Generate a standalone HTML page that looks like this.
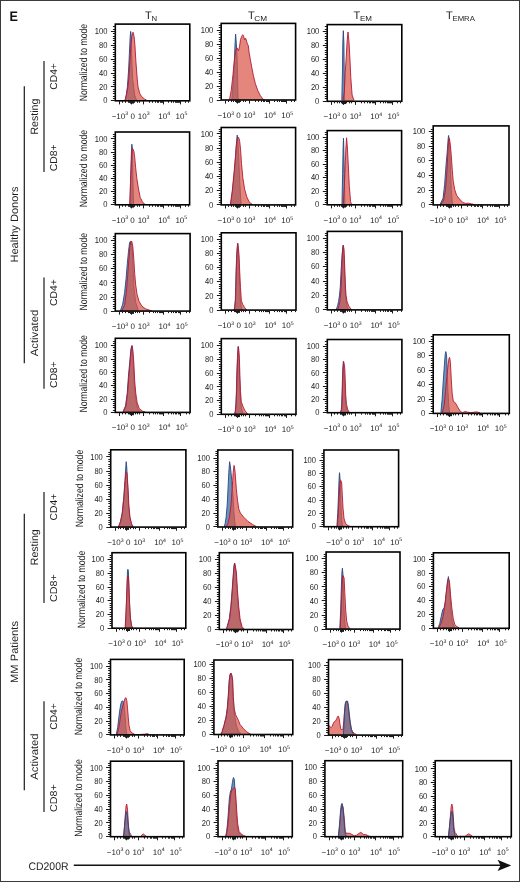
<!DOCTYPE html><html><head><meta charset="utf-8"><style>html,body{margin:0;padding:0;background:#fff;}svg{display:block;will-change:transform;}</style></head><body><svg text-rendering="geometricPrecision" width="520" height="882" viewBox="0 0 520 882" font-family='"Liberation Sans", sans-serif'>
<rect x="0" y="0" width="520" height="882" fill="#fff"/>
<rect x="0.5" y="0.5" width="519" height="881" fill="none" stroke="#3a3a3a" stroke-width="1"/>
<text x="9.4" y="20.6" font-size="13.8" text-anchor="start" font-weight="bold" fill="#111" textLength="8.4" lengthAdjust="spacingAndGlyphs" >E</text>
<text x="145" y="18.6" font-size="11" text-anchor="start" font-weight="normal" fill="#1e1e1e" >T</text>
<text x="151.4" y="20.8" font-size="7.2" text-anchor="start" font-weight="normal" fill="#1e1e1e" textLength="5.6" lengthAdjust="spacingAndGlyphs" >N</text>
<text x="247.9" y="18.6" font-size="11" text-anchor="start" font-weight="normal" fill="#1e1e1e" >T</text>
<text x="254.3" y="20.8" font-size="7.2" text-anchor="start" font-weight="normal" fill="#1e1e1e" textLength="12.8" lengthAdjust="spacingAndGlyphs" >CM</text>
<text x="353.6" y="18.6" font-size="11" text-anchor="start" font-weight="normal" fill="#1e1e1e" >T</text>
<text x="360" y="20.8" font-size="7.2" text-anchor="start" font-weight="normal" fill="#1e1e1e" textLength="12" lengthAdjust="spacingAndGlyphs" >EM</text>
<text x="446.1" y="18.6" font-size="11" text-anchor="start" font-weight="normal" fill="#1e1e1e" >T</text>
<text x="452.5" y="20.8" font-size="7.2" text-anchor="start" font-weight="normal" fill="#1e1e1e" textLength="22.4" lengthAdjust="spacingAndGlyphs" >EMRA</text>
<clipPath id="c11"><rect x="115.3" y="24.1" width="74.5" height="76.7"/></clipPath>
<g clip-path="url(#c11)">
<path d="M125,100.8 L125,100.8 L126.3,95.1 L127.4,86.7 L128.6,70 L129.4,53.2 L130.2,36.4 L130.7,31.4 L131.3,36.4 L131.6,53.2 L132.6,78.3 L134.7,95.1 L136.8,100.8 L136.8,100.8 Z" fill="#1f5a9e" fill-opacity="0.66" stroke="none"/>
<path d="M125,100.8 L126.3,95.1 L127.4,86.7 L128.6,70 L129.4,53.2 L130.2,36.4 L130.7,31.4 L131.3,36.4 L131.6,53.2 L132.6,78.3 L134.7,95.1 L136.8,100.8" fill="none" stroke="#27477c" stroke-width="0.9" stroke-linejoin="round"/>
<path d="M124.6,100.8 L124.6,100.8 L125.5,98.5 L126.7,93.4 L128,86.7 L128.8,78.3 L129.9,61.6 L130.9,44.8 L131.9,36.4 L133,32.2 L134.1,36.4 L134.9,44.8 L135.9,61.6 L137.2,78.3 L138,86.7 L139.7,93.4 L141.8,96.8 L144.3,98.9 L147.7,100.8 L147.7,100.8 Z" fill="#da584a" fill-opacity="0.72" stroke="none"/>
<path d="M124.6,100.8 L125.5,98.5 L126.7,93.4 L128,86.7 L128.8,78.3 L129.9,61.6 L130.9,44.8 L131.9,36.4 L133,32.2 L134.1,36.4 L134.9,44.8 L135.9,61.6 L137.2,78.3 L138,86.7 L139.7,93.4 L141.8,96.8 L144.3,98.9 L147.7,100.8" fill="none" stroke="#b41838" stroke-width="0.9" stroke-linejoin="round"/>
</g>
<rect x="115.3" y="24.1" width="74.5" height="76.7" fill="none" stroke="#000" stroke-width="1.6"/>
<path d="M110.9,100.5H115.3M112.9,98.5H115.3M112.9,96.5H115.3M112.9,93.5H115.3M112.9,91.5H115.3M112.9,89.5H115.3M110.9,86.5H115.3M112.9,84.5H115.3M112.9,82.5H115.3M112.9,80.5H115.3M112.9,77.5H115.3M112.9,75.5H115.3M110.9,73.5H115.3M112.9,70.5H115.3M112.9,68.5H115.3M112.9,66.5H115.3M112.9,63.5H115.3M112.9,61.5H115.3M110.9,59.5H115.3M112.9,56.5H115.3M112.9,54.5H115.3M112.9,52.5H115.3M112.9,49.5H115.3M112.9,47.5H115.3M110.9,45.5H115.3M112.9,43.5H115.3M112.9,40.5H115.3M112.9,38.5H115.3M112.9,36.5H115.3M112.9,33.5H115.3M110.9,31.5H115.3M112.9,29.5H115.3M112.9,26.5H115.3" stroke="#1a1a1a" stroke-width="1" fill="none"/>
<text x="107.4" y="103.4" font-size="8.6" text-anchor="end" font-weight="normal" fill="#1e1e1e" textLength="4.2" lengthAdjust="spacingAndGlyphs" >0</text>
<text x="107.4" y="89.54" font-size="8.6" text-anchor="end" font-weight="normal" fill="#1e1e1e" textLength="8.4" lengthAdjust="spacingAndGlyphs" >20</text>
<text x="107.4" y="75.68" font-size="8.6" text-anchor="end" font-weight="normal" fill="#1e1e1e" textLength="8.4" lengthAdjust="spacingAndGlyphs" >40</text>
<text x="107.4" y="61.82" font-size="8.6" text-anchor="end" font-weight="normal" fill="#1e1e1e" textLength="8.4" lengthAdjust="spacingAndGlyphs" >60</text>
<text x="107.4" y="47.96" font-size="8.6" text-anchor="end" font-weight="normal" fill="#1e1e1e" textLength="8.4" lengthAdjust="spacingAndGlyphs" >80</text>
<text x="107.4" y="34.1" font-size="8.6" text-anchor="end" font-weight="normal" fill="#1e1e1e" textLength="12.6" lengthAdjust="spacingAndGlyphs" >100</text>
<path d="M119.5,100.8v3.6M131.5,100.8v3.6M143.5,100.8v3.6M163.5,100.8v3.6M180.5,100.8v3.6M130.5,100.8v2.8M132.5,100.8v2.8M133.5,100.8v2.8M149.5,100.8v2.0M152.5,100.8v2.0M155.5,100.8v2.0M157.5,100.8v2.0M158.5,100.8v2.0M160.5,100.8v2.0M161.5,100.8v2.0M162.5,100.8v2.0M168.5,100.8v2.0M171.5,100.8v2.0M173.5,100.8v2.0M175.5,100.8v2.0M176.5,100.8v2.0M177.5,100.8v2.0M178.5,100.8v2.0M179.5,100.8v2.0M185.5,100.8v2.0M188.5,100.8v2.0M122.5,100.8v2.0M125.5,100.8v2.0M128.5,100.8v2.0M129.5,100.8v2.0M134.5,100.8v2.0M137.5,100.8v2.0M139.5,100.8v2.0" stroke="#1a1a1a" stroke-width="1" fill="none"/>
<text x="119.92" y="118.6" font-size="8" text-anchor="middle" font-weight="normal" fill="#1e1e1e" >−10<tspan font-size="5.2" dy="-3.2">3</tspan></text>
<text x="132.62" y="118.6" font-size="8" text-anchor="middle" font-weight="normal" fill="#1e1e1e" >0</text>
<text x="143.64" y="118.6" font-size="8" text-anchor="middle" font-weight="normal" fill="#1e1e1e" >10<tspan font-size="5.2" dy="-3.2">3</tspan></text>
<text x="164.18" y="118.6" font-size="8" text-anchor="middle" font-weight="normal" fill="#1e1e1e" >10<tspan font-size="5.2" dy="-3.2">4</tspan></text>
<text x="181.46" y="118.6" font-size="8" text-anchor="middle" font-weight="normal" fill="#1e1e1e" >10<tspan font-size="5.2" dy="-3.2">5</tspan></text>
<text transform="translate(87,62.6) rotate(-90)" x="0" y="0" font-size="10.6" text-anchor="middle" fill="#1e1e1e" textLength="77.4" lengthAdjust="spacingAndGlyphs">Normalized to mode</text>
<clipPath id="c12"><rect x="221.2" y="23.4" width="74.4" height="76.6"/></clipPath>
<g clip-path="url(#c12)">
<path d="M231.8,100 L231.8,99.8 L233.5,77.9 L234.5,60.6 L234.9,46.8 L235.6,34.1 L236.3,43.3 L237,54.8 L237.5,72.1 L237.8,89.4 L238.1,99.8 L238.1,100 Z" fill="#1f5a9e" fill-opacity="0.66" stroke="none"/>
<path d="M231.8,99.8 L233.5,77.9 L234.5,60.6 L234.9,46.8 L235.6,34.1 L236.3,43.3 L237,54.8 L237.5,72.1 L237.8,89.4 L238.1,99.8" fill="none" stroke="#27477c" stroke-width="0.9" stroke-linejoin="round"/>
<path d="M229.5,100 L229.5,99.8 L231.2,90.6 L233,74.4 L234.5,58.3 L235.8,50.2 L237,47.9 L238.4,50.8 L239.5,46.8 L240.5,39.8 L241.6,36.4 L242.8,34.7 L243.7,36.4 L244.5,39.8 L245.6,38.1 L246.5,41 L247.4,43.9 L248.3,45.6 L249.1,52.5 L250.3,59.4 L251.8,67.5 L253.4,75.6 L255.4,83.7 L257.8,90.6 L260.1,95.2 L262.9,99.2 L264.7,99.8 L264.7,100 Z" fill="#da584a" fill-opacity="0.72" stroke="none"/>
<path d="M229.5,99.8 L231.2,90.6 L233,74.4 L234.5,58.3 L235.8,50.2 L237,47.9 L238.4,50.8 L239.5,46.8 L240.5,39.8 L241.6,36.4 L242.8,34.7 L243.7,36.4 L244.5,39.8 L245.6,38.1 L246.5,41 L247.4,43.9 L248.3,45.6 L249.1,52.5 L250.3,59.4 L251.8,67.5 L253.4,75.6 L255.4,83.7 L257.8,90.6 L260.1,95.2 L262.9,99.2 L264.7,99.8" fill="none" stroke="#b41838" stroke-width="0.9" stroke-linejoin="round"/>
</g>
<rect x="221.2" y="23.4" width="74.4" height="76.6" fill="none" stroke="#000" stroke-width="1.6"/>
<path d="M216.8,100.5H221.2M218.8,97.5H221.2M218.8,95.5H221.2M218.8,93.5H221.2M218.8,90.5H221.2M218.8,88.5H221.2M216.8,86.5H221.2M218.8,83.5H221.2M218.8,81.5H221.2M218.8,79.5H221.2M218.8,76.5H221.2M218.8,74.5H221.2M216.8,72.5H221.2M218.8,69.5H221.2M218.8,67.5H221.2M218.8,65.5H221.2M218.8,62.5H221.2M218.8,60.5H221.2M216.8,58.5H221.2M218.8,55.5H221.2M218.8,53.5H221.2M218.8,51.5H221.2M218.8,48.5H221.2M218.8,46.5H221.2M216.8,44.5H221.2M218.8,41.5H221.2M218.8,39.5H221.2M218.8,37.5H221.2M218.8,34.5H221.2M218.8,32.5H221.2M216.8,30.5H221.2M218.8,27.5H221.2M218.8,25.5H221.2" stroke="#1a1a1a" stroke-width="1" fill="none"/>
<text x="213.3" y="102.6" font-size="8.6" text-anchor="end" font-weight="normal" fill="#1e1e1e" textLength="4.2" lengthAdjust="spacingAndGlyphs" >0</text>
<text x="213.3" y="88.64" font-size="8.6" text-anchor="end" font-weight="normal" fill="#1e1e1e" textLength="8.4" lengthAdjust="spacingAndGlyphs" >20</text>
<text x="213.3" y="74.68" font-size="8.6" text-anchor="end" font-weight="normal" fill="#1e1e1e" textLength="8.4" lengthAdjust="spacingAndGlyphs" >40</text>
<text x="213.3" y="60.72" font-size="8.6" text-anchor="end" font-weight="normal" fill="#1e1e1e" textLength="8.4" lengthAdjust="spacingAndGlyphs" >60</text>
<text x="213.3" y="46.76" font-size="8.6" text-anchor="end" font-weight="normal" fill="#1e1e1e" textLength="8.4" lengthAdjust="spacingAndGlyphs" >80</text>
<text x="213.3" y="32.8" font-size="8.6" text-anchor="end" font-weight="normal" fill="#1e1e1e" textLength="12.6" lengthAdjust="spacingAndGlyphs" >100</text>
<path d="M225.5,100v3.6M237.5,100v3.6M249.5,100v3.6M269.5,100v3.6M286.5,100v3.6M236.5,100v2.8M238.5,100v2.8M239.5,100v2.8M255.5,100v2.0M258.5,100v2.0M261.5,100v2.0M263.5,100v2.0M264.5,100v2.0M266.5,100v2.0M267.5,100v2.0M268.5,100v2.0M274.5,100v2.0M277.5,100v2.0M279.5,100v2.0M281.5,100v2.0M282.5,100v2.0M283.5,100v2.0M284.5,100v2.0M285.5,100v2.0M291.5,100v2.0M294.5,100v2.0M228.5,100v2.0M231.5,100v2.0M233.5,100v2.0M235.5,100v2.0M240.5,100v2.0M243.5,100v2.0M245.5,100v2.0" stroke="#1a1a1a" stroke-width="1" fill="none"/>
<text x="225.82" y="117.8" font-size="8" text-anchor="middle" font-weight="normal" fill="#1e1e1e" >−10<tspan font-size="5.2" dy="-3.2">3</tspan></text>
<text x="238.5" y="117.8" font-size="8" text-anchor="middle" font-weight="normal" fill="#1e1e1e" >0</text>
<text x="249.5" y="117.8" font-size="8" text-anchor="middle" font-weight="normal" fill="#1e1e1e" >10<tspan font-size="5.2" dy="-3.2">3</tspan></text>
<text x="270.01" y="117.8" font-size="8" text-anchor="middle" font-weight="normal" fill="#1e1e1e" >10<tspan font-size="5.2" dy="-3.2">4</tspan></text>
<text x="287.27" y="117.8" font-size="8" text-anchor="middle" font-weight="normal" fill="#1e1e1e" >10<tspan font-size="5.2" dy="-3.2">5</tspan></text>
<clipPath id="c13"><rect x="327.2" y="24.6" width="74.6" height="76.7"/></clipPath>
<g clip-path="url(#c13)">
<path d="M341.8,101.3 L341.8,100.1 L342.5,69.1 L342.8,43.2 L343.3,30.7 L343.9,43.2 L344.2,69.1 L344.6,100.1 L344.6,101.3 Z" fill="#1f5a9e" fill-opacity="0.66" stroke="none"/>
<path d="M341.8,100.1 L342.5,69.1 L342.8,43.2 L343.3,30.7 L343.9,43.2 L344.2,69.1 L344.6,100.1" fill="none" stroke="#27477c" stroke-width="0.9" stroke-linejoin="round"/>
<path d="M343.1,101.3 L343.1,100.1 L344.4,90.7 L345.2,73.4 L346.3,56.2 L347.1,41.5 L348,32 L349.1,43.2 L350,60.5 L350.8,77.7 L352.1,95 L353.9,100.1 L353.9,101.3 Z" fill="#da584a" fill-opacity="0.72" stroke="none"/>
<path d="M343.1,100.1 L344.4,90.7 L345.2,73.4 L346.3,56.2 L347.1,41.5 L348,32 L349.1,43.2 L350,60.5 L350.8,77.7 L352.1,95 L353.9,100.1" fill="none" stroke="#b41838" stroke-width="0.9" stroke-linejoin="round"/>
</g>
<rect x="327.2" y="24.6" width="74.6" height="76.7" fill="none" stroke="#000" stroke-width="1.6"/>
<path d="M322.8,101.5H327.2M324.8,98.5H327.2M324.8,96.5H327.2M324.8,94.5H327.2M324.8,91.5H327.2M324.8,89.5H327.2M322.8,87.5H327.2M324.8,85.5H327.2M324.8,82.5H327.2M324.8,80.5H327.2M324.8,78.5H327.2M324.8,75.5H327.2M322.8,73.5H327.2M324.8,71.5H327.2M324.8,68.5H327.2M324.8,66.5H327.2M324.8,64.5H327.2M324.8,61.5H327.2M322.8,59.5H327.2M324.8,57.5H327.2M324.8,54.5H327.2M324.8,52.5H327.2M324.8,50.5H327.2M324.8,47.5H327.2M322.8,45.5H327.2M324.8,43.5H327.2M324.8,40.5H327.2M324.8,38.5H327.2M324.8,36.5H327.2M324.8,33.5H327.2M322.8,31.5H327.2M324.8,29.5H327.2M324.8,26.5H327.2" stroke="#1a1a1a" stroke-width="1" fill="none"/>
<text x="319.3" y="103.9" font-size="8.6" text-anchor="end" font-weight="normal" fill="#1e1e1e" textLength="4.2" lengthAdjust="spacingAndGlyphs" >0</text>
<text x="319.3" y="89.94" font-size="8.6" text-anchor="end" font-weight="normal" fill="#1e1e1e" textLength="8.4" lengthAdjust="spacingAndGlyphs" >20</text>
<text x="319.3" y="75.98" font-size="8.6" text-anchor="end" font-weight="normal" fill="#1e1e1e" textLength="8.4" lengthAdjust="spacingAndGlyphs" >40</text>
<text x="319.3" y="62.02" font-size="8.6" text-anchor="end" font-weight="normal" fill="#1e1e1e" textLength="8.4" lengthAdjust="spacingAndGlyphs" >60</text>
<text x="319.3" y="48.06" font-size="8.6" text-anchor="end" font-weight="normal" fill="#1e1e1e" textLength="8.4" lengthAdjust="spacingAndGlyphs" >80</text>
<text x="319.3" y="34.1" font-size="8.6" text-anchor="end" font-weight="normal" fill="#1e1e1e" textLength="12.6" lengthAdjust="spacingAndGlyphs" >100</text>
<path d="M331.5,101.3v3.6M343.5,101.3v3.6M355.5,101.3v3.6M375.5,101.3v3.6M392.5,101.3v3.6M342.5,101.3v2.8M344.5,101.3v2.8M345.5,101.3v2.8M361.5,101.3v2.0M364.5,101.3v2.0M367.5,101.3v2.0M369.5,101.3v2.0M370.5,101.3v2.0M372.5,101.3v2.0M373.5,101.3v2.0M374.5,101.3v2.0M380.5,101.3v2.0M383.5,101.3v2.0M385.5,101.3v2.0M387.5,101.3v2.0M388.5,101.3v2.0M389.5,101.3v2.0M390.5,101.3v2.0M391.5,101.3v2.0M397.5,101.3v2.0M400.5,101.3v2.0M334.5,101.3v2.0M337.5,101.3v2.0M339.5,101.3v2.0M341.5,101.3v2.0M346.5,101.3v2.0M349.5,101.3v2.0M351.5,101.3v2.0" stroke="#1a1a1a" stroke-width="1" fill="none"/>
<text x="331.83" y="119.1" font-size="8" text-anchor="middle" font-weight="normal" fill="#1e1e1e" >−10<tspan font-size="5.2" dy="-3.2">3</tspan></text>
<text x="344.54" y="119.1" font-size="8" text-anchor="middle" font-weight="normal" fill="#1e1e1e" >0</text>
<text x="355.57" y="119.1" font-size="8" text-anchor="middle" font-weight="normal" fill="#1e1e1e" >10<tspan font-size="5.2" dy="-3.2">3</tspan></text>
<text x="376.14" y="119.1" font-size="8" text-anchor="middle" font-weight="normal" fill="#1e1e1e" >10<tspan font-size="5.2" dy="-3.2">4</tspan></text>
<text x="393.45" y="119.1" font-size="8" text-anchor="middle" font-weight="normal" fill="#1e1e1e" >10<tspan font-size="5.2" dy="-3.2">5</tspan></text>
<clipPath id="c21"><rect x="115.3" y="132" width="74.3" height="72.8"/></clipPath>
<g clip-path="url(#c21)">
<path d="M130.1,204.8 L130.1,204.1 L130.8,174 L131.4,153 L131.8,144.2 L132.4,148.8 L132.8,174 L133.5,204.1 L133.5,204.8 Z" fill="#1f5a9e" fill-opacity="0.66" stroke="none"/>
<path d="M130.1,204.1 L130.8,174 L131.4,153 L131.8,144.2 L132.4,148.8 L132.8,174 L133.5,204.1" fill="none" stroke="#27477c" stroke-width="0.9" stroke-linejoin="round"/>
<path d="M129.7,204.8 L129.7,204.1 L130.5,182.3 L131.4,161.4 L132,148.8 L132.6,148.4 L133.9,151.3 L134.7,157.2 L135.6,167.2 L136.8,178.1 L138.5,189 L140.2,197.4 L142.3,201.6 L144.4,204.1 L146.9,204.8 L146.9,204.8 Z" fill="#da584a" fill-opacity="0.72" stroke="none"/>
<path d="M129.7,204.1 L130.5,182.3 L131.4,161.4 L132,148.8 L132.6,148.4 L133.9,151.3 L134.7,157.2 L135.6,167.2 L136.8,178.1 L138.5,189 L140.2,197.4 L142.3,201.6 L144.4,204.1 L146.9,204.8" fill="none" stroke="#b41838" stroke-width="0.9" stroke-linejoin="round"/>
</g>
<rect x="115.3" y="132" width="74.3" height="72.8" fill="none" stroke="#000" stroke-width="1.6"/>
<path d="M110.9,204.5H115.3M112.9,202.5H115.3M112.9,200.5H115.3M112.9,198.5H115.3M112.9,196.5H115.3M112.9,193.5H115.3M110.9,191.5H115.3M112.9,189.5H115.3M112.9,187.5H115.3M112.9,185.5H115.3M112.9,182.5H115.3M112.9,180.5H115.3M110.9,178.5H115.3M112.9,176.5H115.3M112.9,174.5H115.3M112.9,171.5H115.3M112.9,169.5H115.3M112.9,167.5H115.3M110.9,165.5H115.3M112.9,163.5H115.3M112.9,160.5H115.3M112.9,158.5H115.3M112.9,156.5H115.3M112.9,154.5H115.3M110.9,152.5H115.3M112.9,149.5H115.3M112.9,147.5H115.3M112.9,145.5H115.3M112.9,143.5H115.3M112.9,141.5H115.3M110.9,138.5H115.3M112.9,136.5H115.3M112.9,134.5H115.3" stroke="#1a1a1a" stroke-width="1" fill="none"/>
<text x="107.4" y="207.4" font-size="8.6" text-anchor="end" font-weight="normal" fill="#1e1e1e" textLength="4.2" lengthAdjust="spacingAndGlyphs" >0</text>
<text x="107.4" y="194.24" font-size="8.6" text-anchor="end" font-weight="normal" fill="#1e1e1e" textLength="8.4" lengthAdjust="spacingAndGlyphs" >20</text>
<text x="107.4" y="181.08" font-size="8.6" text-anchor="end" font-weight="normal" fill="#1e1e1e" textLength="8.4" lengthAdjust="spacingAndGlyphs" >40</text>
<text x="107.4" y="167.92" font-size="8.6" text-anchor="end" font-weight="normal" fill="#1e1e1e" textLength="8.4" lengthAdjust="spacingAndGlyphs" >60</text>
<text x="107.4" y="154.76" font-size="8.6" text-anchor="end" font-weight="normal" fill="#1e1e1e" textLength="8.4" lengthAdjust="spacingAndGlyphs" >80</text>
<text x="107.4" y="141.6" font-size="8.6" text-anchor="end" font-weight="normal" fill="#1e1e1e" textLength="12.6" lengthAdjust="spacingAndGlyphs" >100</text>
<path d="M119.5,204.8v3.6M131.5,204.8v3.6M143.5,204.8v3.6M163.5,204.8v3.6M180.5,204.8v3.6M130.5,204.8v2.8M132.5,204.8v2.8M133.5,204.8v2.8M149.5,204.8v2.0M152.5,204.8v2.0M155.5,204.8v2.0M157.5,204.8v2.0M158.5,204.8v2.0M160.5,204.8v2.0M161.5,204.8v2.0M162.5,204.8v2.0M168.5,204.8v2.0M171.5,204.8v2.0M173.5,204.8v2.0M175.5,204.8v2.0M176.5,204.8v2.0M177.5,204.8v2.0M178.5,204.8v2.0M179.5,204.8v2.0M185.5,204.8v2.0M188.5,204.8v2.0M122.5,204.8v2.0M125.5,204.8v2.0M128.5,204.8v2.0M129.5,204.8v2.0M134.5,204.8v2.0M137.5,204.8v2.0M139.5,204.8v2.0" stroke="#1a1a1a" stroke-width="1" fill="none"/>
<text x="119.91" y="222.6" font-size="8" text-anchor="middle" font-weight="normal" fill="#1e1e1e" >−10<tspan font-size="5.2" dy="-3.2">3</tspan></text>
<text x="132.57" y="222.6" font-size="8" text-anchor="middle" font-weight="normal" fill="#1e1e1e" >0</text>
<text x="143.56" y="222.6" font-size="8" text-anchor="middle" font-weight="normal" fill="#1e1e1e" >10<tspan font-size="5.2" dy="-3.2">3</tspan></text>
<text x="164.05" y="222.6" font-size="8" text-anchor="middle" font-weight="normal" fill="#1e1e1e" >10<tspan font-size="5.2" dy="-3.2">4</tspan></text>
<text x="181.29" y="222.6" font-size="8" text-anchor="middle" font-weight="normal" fill="#1e1e1e" >10<tspan font-size="5.2" dy="-3.2">5</tspan></text>
<text transform="translate(87,168.6) rotate(-90)" x="0" y="0" font-size="10.6" text-anchor="middle" fill="#1e1e1e" textLength="77.4" lengthAdjust="spacingAndGlyphs">Normalized to mode</text>
<clipPath id="c22"><rect x="221.2" y="127.5" width="74.4" height="77.4"/></clipPath>
<g clip-path="url(#c22)">
<path d="M230.8,204.9 L230.8,204.1 L232.6,190 L234.4,172.2 L235.7,154.5 L236.6,141.3 L237.2,135.1 L237.9,141.3 L238.8,159 L239.7,181.1 L241,204.1 L241,204.9 Z" fill="#1f5a9e" fill-opacity="0.66" stroke="none"/>
<path d="M230.8,204.1 L232.6,190 L234.4,172.2 L235.7,154.5 L236.6,141.3 L237.2,135.1 L237.9,141.3 L238.8,159 L239.7,181.1 L241,204.1" fill="none" stroke="#27477c" stroke-width="0.9" stroke-linejoin="round"/>
<path d="M230.4,204.9 L230.4,204.1 L232.2,191.7 L233.9,174 L235.3,159 L236.3,145.7 L237.5,138.6 L238.6,137.3 L239.7,141.3 L240.6,150.1 L241.5,163.4 L242.8,177.6 L244.6,189.1 L246.8,197 L249.4,202.3 L252.5,204.5 L252.5,204.9 Z" fill="#da584a" fill-opacity="0.72" stroke="none"/>
<path d="M230.4,204.1 L232.2,191.7 L233.9,174 L235.3,159 L236.3,145.7 L237.5,138.6 L238.6,137.3 L239.7,141.3 L240.6,150.1 L241.5,163.4 L242.8,177.6 L244.6,189.1 L246.8,197 L249.4,202.3 L252.5,204.5" fill="none" stroke="#b41838" stroke-width="0.9" stroke-linejoin="round"/>
</g>
<rect x="221.2" y="127.5" width="74.4" height="77.4" fill="none" stroke="#000" stroke-width="1.6"/>
<path d="M216.8,204.5H221.2M218.8,202.5H221.2M218.8,200.5H221.2M218.8,197.5H221.2M218.8,195.5H221.2M218.8,193.5H221.2M216.8,190.5H221.2M218.8,188.5H221.2M218.8,185.5H221.2M218.8,183.5H221.2M218.8,181.5H221.2M218.8,178.5H221.2M216.8,176.5H221.2M218.8,174.5H221.2M218.8,171.5H221.2M218.8,169.5H221.2M218.8,167.5H221.2M218.8,164.5H221.2M216.8,162.5H221.2M218.8,159.5H221.2M218.8,157.5H221.2M218.8,155.5H221.2M218.8,152.5H221.2M218.8,150.5H221.2M216.8,148.5H221.2M218.8,145.5H221.2M218.8,143.5H221.2M218.8,141.5H221.2M218.8,138.5H221.2M218.8,136.5H221.2M216.8,133.5H221.2M218.8,131.5H221.2M218.8,129.5H221.2" stroke="#1a1a1a" stroke-width="1" fill="none"/>
<text x="213.3" y="207.5" font-size="8.6" text-anchor="end" font-weight="normal" fill="#1e1e1e" textLength="4.2" lengthAdjust="spacingAndGlyphs" >0</text>
<text x="213.3" y="193.3" font-size="8.6" text-anchor="end" font-weight="normal" fill="#1e1e1e" textLength="8.4" lengthAdjust="spacingAndGlyphs" >20</text>
<text x="213.3" y="179.1" font-size="8.6" text-anchor="end" font-weight="normal" fill="#1e1e1e" textLength="8.4" lengthAdjust="spacingAndGlyphs" >40</text>
<text x="213.3" y="164.9" font-size="8.6" text-anchor="end" font-weight="normal" fill="#1e1e1e" textLength="8.4" lengthAdjust="spacingAndGlyphs" >60</text>
<text x="213.3" y="150.7" font-size="8.6" text-anchor="end" font-weight="normal" fill="#1e1e1e" textLength="8.4" lengthAdjust="spacingAndGlyphs" >80</text>
<text x="213.3" y="136.5" font-size="8.6" text-anchor="end" font-weight="normal" fill="#1e1e1e" textLength="12.6" lengthAdjust="spacingAndGlyphs" >100</text>
<path d="M225.5,204.9v3.6M237.5,204.9v3.6M249.5,204.9v3.6M269.5,204.9v3.6M286.5,204.9v3.6M236.5,204.9v2.8M238.5,204.9v2.8M239.5,204.9v2.8M255.5,204.9v2.0M258.5,204.9v2.0M261.5,204.9v2.0M263.5,204.9v2.0M264.5,204.9v2.0M266.5,204.9v2.0M267.5,204.9v2.0M268.5,204.9v2.0M274.5,204.9v2.0M277.5,204.9v2.0M279.5,204.9v2.0M281.5,204.9v2.0M282.5,204.9v2.0M283.5,204.9v2.0M284.5,204.9v2.0M285.5,204.9v2.0M291.5,204.9v2.0M294.5,204.9v2.0M228.5,204.9v2.0M231.5,204.9v2.0M233.5,204.9v2.0M235.5,204.9v2.0M240.5,204.9v2.0M243.5,204.9v2.0M245.5,204.9v2.0" stroke="#1a1a1a" stroke-width="1" fill="none"/>
<text x="225.82" y="222.7" font-size="8" text-anchor="middle" font-weight="normal" fill="#1e1e1e" >−10<tspan font-size="5.2" dy="-3.2">3</tspan></text>
<text x="238.5" y="222.7" font-size="8" text-anchor="middle" font-weight="normal" fill="#1e1e1e" >0</text>
<text x="249.5" y="222.7" font-size="8" text-anchor="middle" font-weight="normal" fill="#1e1e1e" >10<tspan font-size="5.2" dy="-3.2">3</tspan></text>
<text x="270.01" y="222.7" font-size="8" text-anchor="middle" font-weight="normal" fill="#1e1e1e" >10<tspan font-size="5.2" dy="-3.2">4</tspan></text>
<text x="287.27" y="222.7" font-size="8" text-anchor="middle" font-weight="normal" fill="#1e1e1e" >10<tspan font-size="5.2" dy="-3.2">5</tspan></text>
<clipPath id="c23"><rect x="327.2" y="130.6" width="74.4" height="74.2"/></clipPath>
<g clip-path="url(#c23)">
<path d="M342,204.8 L342,204.2 L342.6,173.6 L343.1,148 L343.5,138.2 L343.8,148 L344.3,173.6 L344.9,204.2 L344.9,204.8 Z" fill="#1f5a9e" fill-opacity="0.66" stroke="none"/>
<path d="M342,204.2 L342.6,173.6 L343.1,148 L343.5,138.2 L343.8,148 L344.3,173.6 L344.9,204.2" fill="none" stroke="#27477c" stroke-width="0.9" stroke-linejoin="round"/>
<path d="M343.3,204.8 L343.3,204.2 L344.3,186.3 L345.2,165 L345.9,148 L346.6,137.8 L347.4,148 L348.3,165 L349.3,186.3 L350.6,201.6 L351.4,204.2 L351.4,204.8 Z" fill="#da584a" fill-opacity="0.72" stroke="none"/>
<path d="M343.3,204.2 L344.3,186.3 L345.2,165 L345.9,148 L346.6,137.8 L347.4,148 L348.3,165 L349.3,186.3 L350.6,201.6 L351.4,204.2" fill="none" stroke="#b41838" stroke-width="0.9" stroke-linejoin="round"/>
</g>
<rect x="327.2" y="130.6" width="74.4" height="74.2" fill="none" stroke="#000" stroke-width="1.6"/>
<path d="M322.8,204.5H327.2M324.8,202.5H327.2M324.8,200.5H327.2M324.8,198.5H327.2M324.8,195.5H327.2M324.8,193.5H327.2M322.8,191.5H327.2M324.8,189.5H327.2M324.8,186.5H327.2M324.8,184.5H327.2M324.8,182.5H327.2M324.8,180.5H327.2M322.8,177.5H327.2M324.8,175.5H327.2M324.8,173.5H327.2M324.8,171.5H327.2M324.8,168.5H327.2M324.8,166.5H327.2M322.8,164.5H327.2M324.8,161.5H327.2M324.8,159.5H327.2M324.8,157.5H327.2M324.8,155.5H327.2M324.8,152.5H327.2M322.8,150.5H327.2M324.8,148.5H327.2M324.8,146.5H327.2M324.8,143.5H327.2M324.8,141.5H327.2M324.8,139.5H327.2M322.8,137.5H327.2M324.8,134.5H327.2M324.8,132.5H327.2" stroke="#1a1a1a" stroke-width="1" fill="none"/>
<text x="319.3" y="207.4" font-size="8.6" text-anchor="end" font-weight="normal" fill="#1e1e1e" textLength="4.2" lengthAdjust="spacingAndGlyphs" >0</text>
<text x="319.3" y="193.88" font-size="8.6" text-anchor="end" font-weight="normal" fill="#1e1e1e" textLength="8.4" lengthAdjust="spacingAndGlyphs" >20</text>
<text x="319.3" y="180.36" font-size="8.6" text-anchor="end" font-weight="normal" fill="#1e1e1e" textLength="8.4" lengthAdjust="spacingAndGlyphs" >40</text>
<text x="319.3" y="166.84" font-size="8.6" text-anchor="end" font-weight="normal" fill="#1e1e1e" textLength="8.4" lengthAdjust="spacingAndGlyphs" >60</text>
<text x="319.3" y="153.32" font-size="8.6" text-anchor="end" font-weight="normal" fill="#1e1e1e" textLength="8.4" lengthAdjust="spacingAndGlyphs" >80</text>
<text x="319.3" y="139.8" font-size="8.6" text-anchor="end" font-weight="normal" fill="#1e1e1e" textLength="12.6" lengthAdjust="spacingAndGlyphs" >100</text>
<path d="M331.5,204.8v3.6M343.5,204.8v3.6M355.5,204.8v3.6M375.5,204.8v3.6M392.5,204.8v3.6M342.5,204.8v2.8M344.5,204.8v2.8M345.5,204.8v2.8M361.5,204.8v2.0M364.5,204.8v2.0M367.5,204.8v2.0M369.5,204.8v2.0M370.5,204.8v2.0M372.5,204.8v2.0M373.5,204.8v2.0M374.5,204.8v2.0M380.5,204.8v2.0M383.5,204.8v2.0M385.5,204.8v2.0M387.5,204.8v2.0M388.5,204.8v2.0M389.5,204.8v2.0M390.5,204.8v2.0M391.5,204.8v2.0M397.5,204.8v2.0M400.5,204.8v2.0M334.5,204.8v2.0M337.5,204.8v2.0M339.5,204.8v2.0M341.5,204.8v2.0M346.5,204.8v2.0M349.5,204.8v2.0M351.5,204.8v2.0" stroke="#1a1a1a" stroke-width="1" fill="none"/>
<text x="331.82" y="222.6" font-size="8" text-anchor="middle" font-weight="normal" fill="#1e1e1e" >−10<tspan font-size="5.2" dy="-3.2">3</tspan></text>
<text x="344.5" y="222.6" font-size="8" text-anchor="middle" font-weight="normal" fill="#1e1e1e" >0</text>
<text x="355.5" y="222.6" font-size="8" text-anchor="middle" font-weight="normal" fill="#1e1e1e" >10<tspan font-size="5.2" dy="-3.2">3</tspan></text>
<text x="376.01" y="222.6" font-size="8" text-anchor="middle" font-weight="normal" fill="#1e1e1e" >10<tspan font-size="5.2" dy="-3.2">4</tspan></text>
<text x="393.27" y="222.6" font-size="8" text-anchor="middle" font-weight="normal" fill="#1e1e1e" >10<tspan font-size="5.2" dy="-3.2">5</tspan></text>
<clipPath id="c24"><rect x="433.2" y="125.9" width="75.8" height="79"/></clipPath>
<g clip-path="url(#c24)">
<path d="M439.8,204.9 L439.8,204.9 L443.1,198.2 L444.6,184.7 L446,165.5 L447.3,151 L448.2,138.5 L448.6,135.5 L449.2,139.5 L449.9,151 L450.5,170.3 L451.3,189.5 L452.3,203 L453,204.5 L453,204.9 Z" fill="#1f5a9e" fill-opacity="0.66" stroke="none"/>
<path d="M439.8,204.9 L443.1,198.2 L444.6,184.7 L446,165.5 L447.3,151 L448.2,138.5 L448.6,135.5 L449.2,139.5 L449.9,151 L450.5,170.3 L451.3,189.5 L452.3,203 L453,204.5" fill="none" stroke="#27477c" stroke-width="0.9" stroke-linejoin="round"/>
<path d="M440.7,204.9 L440.7,204.9 L443.6,200.1 L445.5,189.5 L447,170.3 L447.9,151 L448.6,139.5 L449.4,138.5 L450.3,144.3 L451.3,155.8 L452.3,170.3 L453.2,180.8 L454.7,189.5 L456.6,195.3 L459.5,199.1 L462.8,202.5 L465.7,203.4 L468.6,203.2 L471.5,203.9 L474.4,204.5 L474.4,204.9 Z" fill="#da584a" fill-opacity="0.72" stroke="none"/>
<path d="M440.7,204.9 L443.6,200.1 L445.5,189.5 L447,170.3 L447.9,151 L448.6,139.5 L449.4,138.5 L450.3,144.3 L451.3,155.8 L452.3,170.3 L453.2,180.8 L454.7,189.5 L456.6,195.3 L459.5,199.1 L462.8,202.5 L465.7,203.4 L468.6,203.2 L471.5,203.9 L474.4,204.5" fill="none" stroke="#b41838" stroke-width="0.9" stroke-linejoin="round"/>
</g>
<rect x="433.2" y="125.9" width="75.8" height="79" fill="none" stroke="#000" stroke-width="1.6"/>
<path d="M428.8,204.5H433.2M430.8,202.5H433.2M430.8,200.5H433.2M430.8,197.5H433.2M430.8,195.5H433.2M430.8,192.5H433.2M428.8,190.5H433.2M430.8,187.5H433.2M430.8,185.5H433.2M430.8,182.5H433.2M430.8,180.5H433.2M430.8,177.5H433.2M428.8,175.5H433.2M430.8,173.5H433.2M430.8,170.5H433.2M430.8,168.5H433.2M430.8,165.5H433.2M430.8,163.5H433.2M428.8,160.5H433.2M430.8,158.5H433.2M430.8,155.5H433.2M430.8,153.5H433.2M430.8,151.5H433.2M430.8,148.5H433.2M428.8,146.5H433.2M430.8,143.5H433.2M430.8,141.5H433.2M430.8,138.5H433.2M430.8,136.5H433.2M430.8,133.5H433.2M428.8,131.5H433.2M430.8,129.5H433.2" stroke="#1a1a1a" stroke-width="1" fill="none"/>
<text x="425.3" y="207.5" font-size="8.6" text-anchor="end" font-weight="normal" fill="#1e1e1e" textLength="4.2" lengthAdjust="spacingAndGlyphs" >0</text>
<text x="425.3" y="192.82" font-size="8.6" text-anchor="end" font-weight="normal" fill="#1e1e1e" textLength="8.4" lengthAdjust="spacingAndGlyphs" >20</text>
<text x="425.3" y="178.14" font-size="8.6" text-anchor="end" font-weight="normal" fill="#1e1e1e" textLength="8.4" lengthAdjust="spacingAndGlyphs" >40</text>
<text x="425.3" y="163.46" font-size="8.6" text-anchor="end" font-weight="normal" fill="#1e1e1e" textLength="8.4" lengthAdjust="spacingAndGlyphs" >60</text>
<text x="425.3" y="148.78" font-size="8.6" text-anchor="end" font-weight="normal" fill="#1e1e1e" textLength="8.4" lengthAdjust="spacingAndGlyphs" >80</text>
<text x="425.3" y="134.1" font-size="8.6" text-anchor="end" font-weight="normal" fill="#1e1e1e" textLength="12.6" lengthAdjust="spacingAndGlyphs" >100</text>
<path d="M437.5,204.9v3.6M449.5,204.9v3.6M461.5,204.9v3.6M482.5,204.9v3.6M499.5,204.9v3.6M448.5,204.9v2.8M450.5,204.9v2.8M451.5,204.9v2.8M467.5,204.9v2.0M471.5,204.9v2.0M474.5,204.9v2.0M475.5,204.9v2.0M477.5,204.9v2.0M478.5,204.9v2.0M480.5,204.9v2.0M481.5,204.9v2.0M487.5,204.9v2.0M490.5,204.9v2.0M492.5,204.9v2.0M494.5,204.9v2.0M495.5,204.9v2.0M496.5,204.9v2.0M497.5,204.9v2.0M498.5,204.9v2.0M504.5,204.9v2.0M507.5,204.9v2.0M440.5,204.9v2.0M443.5,204.9v2.0M446.5,204.9v2.0M447.5,204.9v2.0M453.5,204.9v2.0M455.5,204.9v2.0M458.5,204.9v2.0" stroke="#1a1a1a" stroke-width="1" fill="none"/>
<text x="437.9" y="222.7" font-size="8" text-anchor="middle" font-weight="normal" fill="#1e1e1e" >−10<tspan font-size="5.2" dy="-3.2">3</tspan></text>
<text x="450.8" y="222.7" font-size="8" text-anchor="middle" font-weight="normal" fill="#1e1e1e" >0</text>
<text x="462.03" y="222.7" font-size="8" text-anchor="middle" font-weight="normal" fill="#1e1e1e" >10<tspan font-size="5.2" dy="-3.2">3</tspan></text>
<text x="482.92" y="222.7" font-size="8" text-anchor="middle" font-weight="normal" fill="#1e1e1e" >10<tspan font-size="5.2" dy="-3.2">4</tspan></text>
<text x="500.5" y="222.7" font-size="8" text-anchor="middle" font-weight="normal" fill="#1e1e1e" >10<tspan font-size="5.2" dy="-3.2">5</tspan></text>
<clipPath id="c31"><rect x="115.3" y="233.6" width="74.8" height="77.5"/></clipPath>
<g clip-path="url(#c31)">
<path d="M120.3,311.1 L120.3,311 L122.7,304.2 L124.6,292.7 L126.1,278.3 L127.3,263.8 L128.5,251.3 L129.6,242.7 L130.4,241.3 L131.3,242.2 L132.3,249.4 L133.1,268.7 L134,287.9 L135.7,302.3 L138.1,310 L139,311 L139,311.1 Z" fill="#1f5a9e" fill-opacity="0.66" stroke="none"/>
<path d="M120.3,311 L122.7,304.2 L124.6,292.7 L126.1,278.3 L127.3,263.8 L128.5,251.3 L129.6,242.7 L130.4,241.3 L131.3,242.2 L132.3,249.4 L133.1,268.7 L134,287.9 L135.7,302.3 L138.1,310 L139,311" fill="none" stroke="#27477c" stroke-width="0.9" stroke-linejoin="round"/>
<path d="M121.7,311.1 L121.7,311 L124.6,305.2 L126.3,292.7 L127.7,275.4 L128.9,259 L129.9,246.5 L130.9,241.7 L131.8,241.3 L132.8,246.5 L133.8,259 L134.7,273.5 L135.7,285 L137.1,294.6 L139,301.3 L141.9,306.2 L145.8,309 L150.6,310.5 L152,311 L152,311.1 Z" fill="#da584a" fill-opacity="0.72" stroke="none"/>
<path d="M121.7,311 L124.6,305.2 L126.3,292.7 L127.7,275.4 L128.9,259 L129.9,246.5 L130.9,241.7 L131.8,241.3 L132.8,246.5 L133.8,259 L134.7,273.5 L135.7,285 L137.1,294.6 L139,301.3 L141.9,306.2 L145.8,309 L150.6,310.5 L152,311" fill="none" stroke="#b41838" stroke-width="0.9" stroke-linejoin="round"/>
</g>
<rect x="115.3" y="233.6" width="74.8" height="77.5" fill="none" stroke="#000" stroke-width="1.6"/>
<path d="M110.9,311.5H115.3M112.9,308.5H115.3M112.9,306.5H115.3M112.9,304.5H115.3M112.9,301.5H115.3M112.9,299.5H115.3M110.9,297.5H115.3M112.9,294.5H115.3M112.9,292.5H115.3M112.9,289.5H115.3M112.9,287.5H115.3M112.9,285.5H115.3M110.9,282.5H115.3M112.9,280.5H115.3M112.9,278.5H115.3M112.9,275.5H115.3M112.9,273.5H115.3M112.9,271.5H115.3M110.9,268.5H115.3M112.9,266.5H115.3M112.9,264.5H115.3M112.9,261.5H115.3M112.9,259.5H115.3M112.9,257.5H115.3M110.9,254.5H115.3M112.9,252.5H115.3M112.9,250.5H115.3M112.9,247.5H115.3M112.9,245.5H115.3M112.9,243.5H115.3M110.9,240.5H115.3M112.9,238.5H115.3M112.9,236.5H115.3" stroke="#1a1a1a" stroke-width="1" fill="none"/>
<text x="107.4" y="313.7" font-size="8.6" text-anchor="end" font-weight="normal" fill="#1e1e1e" textLength="4.2" lengthAdjust="spacingAndGlyphs" >0</text>
<text x="107.4" y="299.63" font-size="8.6" text-anchor="end" font-weight="normal" fill="#1e1e1e" textLength="8.4" lengthAdjust="spacingAndGlyphs" >20</text>
<text x="107.4" y="285.56" font-size="8.6" text-anchor="end" font-weight="normal" fill="#1e1e1e" textLength="8.4" lengthAdjust="spacingAndGlyphs" >40</text>
<text x="107.4" y="271.49" font-size="8.6" text-anchor="end" font-weight="normal" fill="#1e1e1e" textLength="8.4" lengthAdjust="spacingAndGlyphs" >60</text>
<text x="107.4" y="257.42" font-size="8.6" text-anchor="end" font-weight="normal" fill="#1e1e1e" textLength="8.4" lengthAdjust="spacingAndGlyphs" >80</text>
<text x="107.4" y="243.35" font-size="8.6" text-anchor="end" font-weight="normal" fill="#1e1e1e" textLength="12.6" lengthAdjust="spacingAndGlyphs" >100</text>
<path d="M119.5,311.1v3.6M131.5,311.1v3.6M143.5,311.1v3.6M163.5,311.1v3.6M180.5,311.1v3.6M130.5,311.1v2.8M132.5,311.1v2.8M133.5,311.1v2.8M149.5,311.1v2.0M153.5,311.1v2.0M155.5,311.1v2.0M157.5,311.1v2.0M159.5,311.1v2.0M160.5,311.1v2.0M161.5,311.1v2.0M162.5,311.1v2.0M168.5,311.1v2.0M171.5,311.1v2.0M173.5,311.1v2.0M175.5,311.1v2.0M176.5,311.1v2.0M178.5,311.1v2.0M179.5,311.1v2.0M180.5,311.1v2.0M186.5,311.1v2.0M189.5,311.1v2.0M122.5,311.1v2.0M125.5,311.1v2.0M128.5,311.1v2.0M129.5,311.1v2.0M135.5,311.1v2.0M137.5,311.1v2.0M139.5,311.1v2.0" stroke="#1a1a1a" stroke-width="1" fill="none"/>
<text x="119.94" y="328.9" font-size="8" text-anchor="middle" font-weight="normal" fill="#1e1e1e" >−10<tspan font-size="5.2" dy="-3.2">3</tspan></text>
<text x="132.68" y="328.9" font-size="8" text-anchor="middle" font-weight="normal" fill="#1e1e1e" >0</text>
<text x="143.75" y="328.9" font-size="8" text-anchor="middle" font-weight="normal" fill="#1e1e1e" >10<tspan font-size="5.2" dy="-3.2">3</tspan></text>
<text x="164.37" y="328.9" font-size="8" text-anchor="middle" font-weight="normal" fill="#1e1e1e" >10<tspan font-size="5.2" dy="-3.2">4</tspan></text>
<text x="181.72" y="328.9" font-size="8" text-anchor="middle" font-weight="normal" fill="#1e1e1e" >10<tspan font-size="5.2" dy="-3.2">5</tspan></text>
<text transform="translate(87.3,271.7) rotate(-90)" x="0" y="0" font-size="10.6" text-anchor="middle" fill="#1e1e1e" textLength="77.4" lengthAdjust="spacingAndGlyphs">Normalized to mode</text>
<clipPath id="c32"><rect x="221.3" y="232.8" width="74.7" height="77.3"/></clipPath>
<g clip-path="url(#c32)">
<path d="M234.1,310.1 L234.1,310 L234.7,306.7 L235.3,300.1 L235.7,287.7 L236.1,271.1 L236.7,254.6 L237.6,243.4 L238.5,254.6 L239.1,271.1 L239.7,287.7 L240.3,300.1 L241.3,306.7 L242.5,310 L242.5,310.1 Z" fill="#1f5a9e" fill-opacity="0.66" stroke="none"/>
<path d="M234.1,310 L234.7,306.7 L235.3,300.1 L235.7,287.7 L236.1,271.1 L236.7,254.6 L237.6,243.4 L238.5,254.6 L239.1,271.1 L239.7,287.7 L240.3,300.1 L241.3,306.7 L242.5,310" fill="none" stroke="#27477c" stroke-width="0.9" stroke-linejoin="round"/>
<path d="M234.3,310.1 L234.3,310 L234.9,306.7 L235.5,300.1 L235.9,287.7 L236.3,271.1 L236.9,254.6 L237.4,247 L237.8,243.4 L238.3,247 L239,254.6 L239.7,271.1 L240.5,287.7 L241.3,300.1 L242.6,304.2 L244.6,307.5 L246.7,310 L246.7,310.1 Z" fill="#da584a" fill-opacity="0.72" stroke="none"/>
<path d="M234.3,310 L234.9,306.7 L235.5,300.1 L235.9,287.7 L236.3,271.1 L236.9,254.6 L237.4,247 L237.8,243.4 L238.3,247 L239,254.6 L239.7,271.1 L240.5,287.7 L241.3,300.1 L242.6,304.2 L244.6,307.5 L246.7,310" fill="none" stroke="#b41838" stroke-width="0.9" stroke-linejoin="round"/>
</g>
<rect x="221.3" y="232.8" width="74.7" height="77.3" fill="none" stroke="#000" stroke-width="1.6"/>
<path d="M216.9,310.5H221.3M218.9,307.5H221.3M218.9,305.5H221.3M218.9,303.5H221.3M218.9,300.5H221.3M218.9,298.5H221.3M216.9,295.5H221.3M218.9,293.5H221.3M218.9,291.5H221.3M218.9,288.5H221.3M218.9,286.5H221.3M218.9,284.5H221.3M216.9,281.5H221.3M218.9,279.5H221.3M218.9,277.5H221.3M218.9,274.5H221.3M218.9,272.5H221.3M218.9,269.5H221.3M216.9,267.5H221.3M218.9,265.5H221.3M218.9,262.5H221.3M218.9,260.5H221.3M218.9,258.5H221.3M218.9,255.5H221.3M216.9,253.5H221.3M218.9,251.5H221.3M218.9,248.5H221.3M218.9,246.5H221.3M218.9,243.5H221.3M218.9,241.5H221.3M216.9,239.5H221.3M218.9,236.5H221.3M218.9,234.5H221.3" stroke="#1a1a1a" stroke-width="1" fill="none"/>
<text x="213.4" y="312.7" font-size="8.6" text-anchor="end" font-weight="normal" fill="#1e1e1e" textLength="4.2" lengthAdjust="spacingAndGlyphs" >0</text>
<text x="213.4" y="298.52" font-size="8.6" text-anchor="end" font-weight="normal" fill="#1e1e1e" textLength="8.4" lengthAdjust="spacingAndGlyphs" >20</text>
<text x="213.4" y="284.34" font-size="8.6" text-anchor="end" font-weight="normal" fill="#1e1e1e" textLength="8.4" lengthAdjust="spacingAndGlyphs" >40</text>
<text x="213.4" y="270.16" font-size="8.6" text-anchor="end" font-weight="normal" fill="#1e1e1e" textLength="8.4" lengthAdjust="spacingAndGlyphs" >60</text>
<text x="213.4" y="255.98" font-size="8.6" text-anchor="end" font-weight="normal" fill="#1e1e1e" textLength="8.4" lengthAdjust="spacingAndGlyphs" >80</text>
<text x="213.4" y="241.8" font-size="8.6" text-anchor="end" font-weight="normal" fill="#1e1e1e" textLength="12.6" lengthAdjust="spacingAndGlyphs" >100</text>
<path d="M225.5,310.1v3.6M237.5,310.1v3.6M249.5,310.1v3.6M269.5,310.1v3.6M286.5,310.1v3.6M236.5,310.1v2.8M238.5,310.1v2.8M239.5,310.1v2.8M255.5,310.1v2.0M259.5,310.1v2.0M261.5,310.1v2.0M263.5,310.1v2.0M265.5,310.1v2.0M266.5,310.1v2.0M267.5,310.1v2.0M268.5,310.1v2.0M274.5,310.1v2.0M277.5,310.1v2.0M279.5,310.1v2.0M281.5,310.1v2.0M282.5,310.1v2.0M284.5,310.1v2.0M285.5,310.1v2.0M285.5,310.1v2.0M291.5,310.1v2.0M295.5,310.1v2.0M228.5,310.1v2.0M231.5,310.1v2.0M234.5,310.1v2.0M235.5,310.1v2.0M241.5,310.1v2.0M243.5,310.1v2.0M245.5,310.1v2.0" stroke="#1a1a1a" stroke-width="1" fill="none"/>
<text x="225.93" y="327.9" font-size="8" text-anchor="middle" font-weight="normal" fill="#1e1e1e" >−10<tspan font-size="5.2" dy="-3.2">3</tspan></text>
<text x="238.66" y="327.9" font-size="8" text-anchor="middle" font-weight="normal" fill="#1e1e1e" >0</text>
<text x="249.71" y="327.9" font-size="8" text-anchor="middle" font-weight="normal" fill="#1e1e1e" >10<tspan font-size="5.2" dy="-3.2">3</tspan></text>
<text x="270.31" y="327.9" font-size="8" text-anchor="middle" font-weight="normal" fill="#1e1e1e" >10<tspan font-size="5.2" dy="-3.2">4</tspan></text>
<text x="287.64" y="327.9" font-size="8" text-anchor="middle" font-weight="normal" fill="#1e1e1e" >10<tspan font-size="5.2" dy="-3.2">5</tspan></text>
<clipPath id="c33"><rect x="327.3" y="231.4" width="74.7" height="78.5"/></clipPath>
<g clip-path="url(#c33)">
<path d="M336.1,309.9 L336.1,309.9 L337.6,305.8 L338.5,301.7 L339.5,295.1 L340.3,287 L341.1,270.7 L342,256 L342.6,249 L343.2,245.3 L343.8,250 L344.4,270.7 L345,287 L345.5,295.1 L346.3,302 L347.3,306.5 L348.5,309.9 L348.5,309.9 Z" fill="#1f5a9e" fill-opacity="0.66" stroke="none"/>
<path d="M336.1,309.9 L337.6,305.8 L338.5,301.7 L339.5,295.1 L340.3,287 L341.1,270.7 L342,256 L342.6,249 L343.2,245.3 L343.8,250 L344.4,270.7 L345,287 L345.5,295.1 L346.3,302 L347.3,306.5 L348.5,309.9" fill="none" stroke="#27477c" stroke-width="0.9" stroke-linejoin="round"/>
<path d="M337.7,309.9 L337.7,309.9 L338.9,305.8 L339.8,301.7 L340.6,295.1 L341.1,287 L341.8,270.7 L342.4,254.3 L342.9,248 L343.3,245.3 L343.8,248 L344.2,254.3 L344.9,270.7 L345.5,287 L346,295.1 L347.1,301.7 L348.7,305.8 L350.2,308 L351.6,309.9 L351.6,309.9 Z" fill="#da584a" fill-opacity="0.72" stroke="none"/>
<path d="M337.7,309.9 L338.9,305.8 L339.8,301.7 L340.6,295.1 L341.1,287 L341.8,270.7 L342.4,254.3 L342.9,248 L343.3,245.3 L343.8,248 L344.2,254.3 L344.9,270.7 L345.5,287 L346,295.1 L347.1,301.7 L348.7,305.8 L350.2,308 L351.6,309.9" fill="none" stroke="#b41838" stroke-width="0.9" stroke-linejoin="round"/>
</g>
<rect x="327.3" y="231.4" width="74.7" height="78.5" fill="none" stroke="#000" stroke-width="1.6"/>
<path d="M322.9,309.5H327.3M324.9,307.5H327.3M324.9,305.5H327.3M324.9,302.5H327.3M324.9,300.5H327.3M324.9,297.5H327.3M322.9,295.5H327.3M324.9,293.5H327.3M324.9,290.5H327.3M324.9,288.5H327.3M324.9,285.5H327.3M324.9,283.5H327.3M322.9,281.5H327.3M324.9,278.5H327.3M324.9,276.5H327.3M324.9,274.5H327.3M324.9,271.5H327.3M324.9,269.5H327.3M322.9,266.5H327.3M324.9,264.5H327.3M324.9,262.5H327.3M324.9,259.5H327.3M324.9,257.5H327.3M324.9,254.5H327.3M322.9,252.5H327.3M324.9,250.5H327.3M324.9,247.5H327.3M324.9,245.5H327.3M324.9,242.5H327.3M324.9,240.5H327.3M322.9,238.5H327.3M324.9,235.5H327.3M324.9,233.5H327.3" stroke="#1a1a1a" stroke-width="1" fill="none"/>
<text x="319.4" y="312.5" font-size="8.6" text-anchor="end" font-weight="normal" fill="#1e1e1e" textLength="4.2" lengthAdjust="spacingAndGlyphs" >0</text>
<text x="319.4" y="298.14" font-size="8.6" text-anchor="end" font-weight="normal" fill="#1e1e1e" textLength="8.4" lengthAdjust="spacingAndGlyphs" >20</text>
<text x="319.4" y="283.78" font-size="8.6" text-anchor="end" font-weight="normal" fill="#1e1e1e" textLength="8.4" lengthAdjust="spacingAndGlyphs" >40</text>
<text x="319.4" y="269.42" font-size="8.6" text-anchor="end" font-weight="normal" fill="#1e1e1e" textLength="8.4" lengthAdjust="spacingAndGlyphs" >60</text>
<text x="319.4" y="255.06" font-size="8.6" text-anchor="end" font-weight="normal" fill="#1e1e1e" textLength="8.4" lengthAdjust="spacingAndGlyphs" >80</text>
<text x="319.4" y="240.7" font-size="8.6" text-anchor="end" font-weight="normal" fill="#1e1e1e" textLength="12.6" lengthAdjust="spacingAndGlyphs" >100</text>
<path d="M331.5,309.9v3.6M343.5,309.9v3.6M355.5,309.9v3.6M375.5,309.9v3.6M392.5,309.9v3.6M342.5,309.9v2.8M344.5,309.9v2.8M345.5,309.9v2.8M361.5,309.9v2.0M365.5,309.9v2.0M367.5,309.9v2.0M369.5,309.9v2.0M371.5,309.9v2.0M372.5,309.9v2.0M373.5,309.9v2.0M374.5,309.9v2.0M380.5,309.9v2.0M383.5,309.9v2.0M385.5,309.9v2.0M387.5,309.9v2.0M388.5,309.9v2.0M390.5,309.9v2.0M391.5,309.9v2.0M391.5,309.9v2.0M397.5,309.9v2.0M401.5,309.9v2.0M334.5,309.9v2.0M337.5,309.9v2.0M340.5,309.9v2.0M341.5,309.9v2.0M347.5,309.9v2.0M349.5,309.9v2.0M351.5,309.9v2.0" stroke="#1a1a1a" stroke-width="1" fill="none"/>
<text x="331.93" y="327.7" font-size="8" text-anchor="middle" font-weight="normal" fill="#1e1e1e" >−10<tspan font-size="5.2" dy="-3.2">3</tspan></text>
<text x="344.66" y="327.7" font-size="8" text-anchor="middle" font-weight="normal" fill="#1e1e1e" >0</text>
<text x="355.71" y="327.7" font-size="8" text-anchor="middle" font-weight="normal" fill="#1e1e1e" >10<tspan font-size="5.2" dy="-3.2">3</tspan></text>
<text x="376.31" y="327.7" font-size="8" text-anchor="middle" font-weight="normal" fill="#1e1e1e" >10<tspan font-size="5.2" dy="-3.2">4</tspan></text>
<text x="393.64" y="327.7" font-size="8" text-anchor="middle" font-weight="normal" fill="#1e1e1e" >10<tspan font-size="5.2" dy="-3.2">5</tspan></text>
<clipPath id="c41"><rect x="115.3" y="338.3" width="74.8" height="74.1"/></clipPath>
<g clip-path="url(#c41)">
<path d="M123,412.4 L123,411.6 L125.5,406.1 L127.2,393.5 L128.4,376.8 L129.7,362.5 L130.9,349.1 L131.8,345.7 L132.6,351.6 L133.5,368.4 L134.3,385.1 L135.6,399.4 L137.7,408.6 L140.2,411.6 L140.2,412.4 Z" fill="#1f5a9e" fill-opacity="0.66" stroke="none"/>
<path d="M123,411.6 L125.5,406.1 L127.2,393.5 L128.4,376.8 L129.7,362.5 L130.9,349.1 L131.8,345.7 L132.6,351.6 L133.5,368.4 L134.3,385.1 L135.6,399.4 L137.7,408.6 L140.2,411.6" fill="none" stroke="#27477c" stroke-width="0.9" stroke-linejoin="round"/>
<path d="M123.4,412.4 L123.4,411.6 L125.9,406.1 L127.6,393.5 L128.8,376.8 L130.1,362.5 L131.1,351.6 L132.2,345.7 L133,351.6 L133.9,364.2 L134.7,381 L135.8,393.5 L137.2,402.8 L139.3,408.6 L142.7,411.3 L145.2,411.8 L145.2,412.4 Z" fill="#da584a" fill-opacity="0.72" stroke="none"/>
<path d="M123.4,411.6 L125.9,406.1 L127.6,393.5 L128.8,376.8 L130.1,362.5 L131.1,351.6 L132.2,345.7 L133,351.6 L133.9,364.2 L134.7,381 L135.8,393.5 L137.2,402.8 L139.3,408.6 L142.7,411.3 L145.2,411.8" fill="none" stroke="#b41838" stroke-width="0.9" stroke-linejoin="round"/>
</g>
<rect x="115.3" y="338.3" width="74.8" height="74.1" fill="none" stroke="#000" stroke-width="1.6"/>
<path d="M110.9,412.5H115.3M112.9,410.5H115.3M112.9,407.5H115.3M112.9,405.5H115.3M112.9,403.5H115.3M112.9,401.5H115.3M110.9,399.5H115.3M112.9,396.5H115.3M112.9,394.5H115.3M112.9,392.5H115.3M112.9,390.5H115.3M112.9,387.5H115.3M110.9,385.5H115.3M112.9,383.5H115.3M112.9,381.5H115.3M112.9,379.5H115.3M112.9,376.5H115.3M112.9,374.5H115.3M110.9,372.5H115.3M112.9,370.5H115.3M112.9,367.5H115.3M112.9,365.5H115.3M112.9,363.5H115.3M112.9,361.5H115.3M110.9,359.5H115.3M112.9,356.5H115.3M112.9,354.5H115.3M112.9,352.5H115.3M112.9,350.5H115.3M112.9,347.5H115.3M110.9,345.5H115.3M112.9,343.5H115.3M112.9,341.5H115.3" stroke="#1a1a1a" stroke-width="1" fill="none"/>
<text x="107.4" y="415" font-size="8.6" text-anchor="end" font-weight="normal" fill="#1e1e1e" textLength="4.2" lengthAdjust="spacingAndGlyphs" >0</text>
<text x="107.4" y="401.67" font-size="8.6" text-anchor="end" font-weight="normal" fill="#1e1e1e" textLength="8.4" lengthAdjust="spacingAndGlyphs" >20</text>
<text x="107.4" y="388.34" font-size="8.6" text-anchor="end" font-weight="normal" fill="#1e1e1e" textLength="8.4" lengthAdjust="spacingAndGlyphs" >40</text>
<text x="107.4" y="375.01" font-size="8.6" text-anchor="end" font-weight="normal" fill="#1e1e1e" textLength="8.4" lengthAdjust="spacingAndGlyphs" >60</text>
<text x="107.4" y="361.68" font-size="8.6" text-anchor="end" font-weight="normal" fill="#1e1e1e" textLength="8.4" lengthAdjust="spacingAndGlyphs" >80</text>
<text x="107.4" y="348.35" font-size="8.6" text-anchor="end" font-weight="normal" fill="#1e1e1e" textLength="12.6" lengthAdjust="spacingAndGlyphs" >100</text>
<path d="M119.5,412.4v3.6M131.5,412.4v3.6M143.5,412.4v3.6M163.5,412.4v3.6M180.5,412.4v3.6M130.5,412.4v2.8M132.5,412.4v2.8M133.5,412.4v2.8M149.5,412.4v2.0M153.5,412.4v2.0M155.5,412.4v2.0M157.5,412.4v2.0M159.5,412.4v2.0M160.5,412.4v2.0M161.5,412.4v2.0M162.5,412.4v2.0M168.5,412.4v2.0M171.5,412.4v2.0M173.5,412.4v2.0M175.5,412.4v2.0M176.5,412.4v2.0M178.5,412.4v2.0M179.5,412.4v2.0M180.5,412.4v2.0M186.5,412.4v2.0M189.5,412.4v2.0M122.5,412.4v2.0M125.5,412.4v2.0M128.5,412.4v2.0M129.5,412.4v2.0M135.5,412.4v2.0M137.5,412.4v2.0M139.5,412.4v2.0" stroke="#1a1a1a" stroke-width="1" fill="none"/>
<text x="119.94" y="430.2" font-size="8" text-anchor="middle" font-weight="normal" fill="#1e1e1e" >−10<tspan font-size="5.2" dy="-3.2">3</tspan></text>
<text x="132.68" y="430.2" font-size="8" text-anchor="middle" font-weight="normal" fill="#1e1e1e" >0</text>
<text x="143.75" y="430.2" font-size="8" text-anchor="middle" font-weight="normal" fill="#1e1e1e" >10<tspan font-size="5.2" dy="-3.2">3</tspan></text>
<text x="164.37" y="430.2" font-size="8" text-anchor="middle" font-weight="normal" fill="#1e1e1e" >10<tspan font-size="5.2" dy="-3.2">4</tspan></text>
<text x="181.72" y="430.2" font-size="8" text-anchor="middle" font-weight="normal" fill="#1e1e1e" >10<tspan font-size="5.2" dy="-3.2">5</tspan></text>
<text transform="translate(87.3,373.9) rotate(-90)" x="0" y="0" font-size="10.6" text-anchor="middle" fill="#1e1e1e" textLength="77.4" lengthAdjust="spacingAndGlyphs">Normalized to mode</text>
<clipPath id="c42"><rect x="221.3" y="338.6" width="74.7" height="75.7"/></clipPath>
<g clip-path="url(#c42)">
<path d="M234.7,414.3 L234.7,414.2 L235.3,410.7 L235.9,404.1 L236.4,391.7 L236.8,375.1 L237.4,358.6 L238.2,346.6 L239,358.6 L239.5,375.1 L240,391.7 L240.6,401.6 L241.5,408 L243,414.2 L243,414.3 Z" fill="#1f5a9e" fill-opacity="0.66" stroke="none"/>
<path d="M234.7,414.2 L235.3,410.7 L235.9,404.1 L236.4,391.7 L236.8,375.1 L237.4,358.6 L238.2,346.6 L239,358.6 L239.5,375.1 L240,391.7 L240.6,401.6 L241.5,408 L243,414.2" fill="none" stroke="#27477c" stroke-width="0.9" stroke-linejoin="round"/>
<path d="M234.9,414.3 L234.9,414.2 L235.5,410.7 L236.1,404.1 L236.6,391.7 L237,375.1 L237.6,358.6 L238,350.5 L238.4,346.6 L238.9,350.5 L239.4,358.6 L239.9,375.1 L240.5,391.7 L241.3,401.6 L243,406.6 L245,410.7 L247.9,414.2 L247.9,414.3 Z" fill="#da584a" fill-opacity="0.72" stroke="none"/>
<path d="M234.9,414.2 L235.5,410.7 L236.1,404.1 L236.6,391.7 L237,375.1 L237.6,358.6 L238,350.5 L238.4,346.6 L238.9,350.5 L239.4,358.6 L239.9,375.1 L240.5,391.7 L241.3,401.6 L243,406.6 L245,410.7 L247.9,414.2" fill="none" stroke="#b41838" stroke-width="0.9" stroke-linejoin="round"/>
</g>
<rect x="221.3" y="338.6" width="74.7" height="75.7" fill="none" stroke="#000" stroke-width="1.6"/>
<path d="M216.9,414.5H221.3M218.9,412.5H221.3M218.9,409.5H221.3M218.9,407.5H221.3M218.9,405.5H221.3M218.9,402.5H221.3M216.9,400.5H221.3M218.9,398.5H221.3M218.9,396.5H221.3M218.9,393.5H221.3M218.9,391.5H221.3M218.9,389.5H221.3M216.9,386.5H221.3M218.9,384.5H221.3M218.9,382.5H221.3M218.9,380.5H221.3M218.9,377.5H221.3M218.9,375.5H221.3M216.9,373.5H221.3M218.9,370.5H221.3M218.9,368.5H221.3M218.9,366.5H221.3M218.9,364.5H221.3M218.9,361.5H221.3M216.9,359.5H221.3M218.9,357.5H221.3M218.9,354.5H221.3M218.9,352.5H221.3M218.9,350.5H221.3M218.9,348.5H221.3M216.9,345.5H221.3M218.9,343.5H221.3M218.9,341.5H221.3" stroke="#1a1a1a" stroke-width="1" fill="none"/>
<text x="213.4" y="416.9" font-size="8.6" text-anchor="end" font-weight="normal" fill="#1e1e1e" textLength="4.2" lengthAdjust="spacingAndGlyphs" >0</text>
<text x="213.4" y="403.2" font-size="8.6" text-anchor="end" font-weight="normal" fill="#1e1e1e" textLength="8.4" lengthAdjust="spacingAndGlyphs" >20</text>
<text x="213.4" y="389.5" font-size="8.6" text-anchor="end" font-weight="normal" fill="#1e1e1e" textLength="8.4" lengthAdjust="spacingAndGlyphs" >40</text>
<text x="213.4" y="375.8" font-size="8.6" text-anchor="end" font-weight="normal" fill="#1e1e1e" textLength="8.4" lengthAdjust="spacingAndGlyphs" >60</text>
<text x="213.4" y="362.1" font-size="8.6" text-anchor="end" font-weight="normal" fill="#1e1e1e" textLength="8.4" lengthAdjust="spacingAndGlyphs" >80</text>
<text x="213.4" y="348.4" font-size="8.6" text-anchor="end" font-weight="normal" fill="#1e1e1e" textLength="12.6" lengthAdjust="spacingAndGlyphs" >100</text>
<path d="M225.5,414.3v3.6M237.5,414.3v3.6M249.5,414.3v3.6M269.5,414.3v3.6M286.5,414.3v3.6M236.5,414.3v2.8M238.5,414.3v2.8M239.5,414.3v2.8M255.5,414.3v2.0M259.5,414.3v2.0M261.5,414.3v2.0M263.5,414.3v2.0M265.5,414.3v2.0M266.5,414.3v2.0M267.5,414.3v2.0M268.5,414.3v2.0M274.5,414.3v2.0M277.5,414.3v2.0M279.5,414.3v2.0M281.5,414.3v2.0M282.5,414.3v2.0M284.5,414.3v2.0M285.5,414.3v2.0M285.5,414.3v2.0M291.5,414.3v2.0M295.5,414.3v2.0M228.5,414.3v2.0M231.5,414.3v2.0M234.5,414.3v2.0M235.5,414.3v2.0M241.5,414.3v2.0M243.5,414.3v2.0M245.5,414.3v2.0" stroke="#1a1a1a" stroke-width="1" fill="none"/>
<text x="225.93" y="432.1" font-size="8" text-anchor="middle" font-weight="normal" fill="#1e1e1e" >−10<tspan font-size="5.2" dy="-3.2">3</tspan></text>
<text x="238.66" y="432.1" font-size="8" text-anchor="middle" font-weight="normal" fill="#1e1e1e" >0</text>
<text x="249.71" y="432.1" font-size="8" text-anchor="middle" font-weight="normal" fill="#1e1e1e" >10<tspan font-size="5.2" dy="-3.2">3</tspan></text>
<text x="270.31" y="432.1" font-size="8" text-anchor="middle" font-weight="normal" fill="#1e1e1e" >10<tspan font-size="5.2" dy="-3.2">4</tspan></text>
<text x="287.64" y="432.1" font-size="8" text-anchor="middle" font-weight="normal" fill="#1e1e1e" >10<tspan font-size="5.2" dy="-3.2">5</tspan></text>
<clipPath id="c43"><rect x="327.3" y="339.5" width="74.6" height="73.2"/></clipPath>
<g clip-path="url(#c43)">
<path d="M340.4,412.7 L340.4,412.7 L341.3,409.7 L341.7,404.5 L342,394.8 L342.4,381.9 L342.8,368.9 L343.4,361.5 L343.9,368.9 L344.6,381.9 L345.1,394.8 L345.8,404.5 L346.8,409.7 L348.2,412.7 L348.2,412.7 Z" fill="#1f5a9e" fill-opacity="0.66" stroke="none"/>
<path d="M340.4,412.7 L341.3,409.7 L341.7,404.5 L342,394.8 L342.4,381.9 L342.8,368.9 L343.4,361.5 L343.9,368.9 L344.6,381.9 L345.1,394.8 L345.8,404.5 L346.8,409.7 L348.2,412.7" fill="none" stroke="#27477c" stroke-width="0.9" stroke-linejoin="round"/>
<path d="M340.7,412.7 L340.7,412.7 L341.6,409.7 L342,404.5 L342.3,394.8 L342.7,381.9 L343.1,368.9 L343.6,361.5 L344.2,364 L344.8,368.9 L345.3,381.9 L345.7,394.8 L346.5,404.5 L347.8,409.7 L349.5,412.7 L349.5,412.7 Z" fill="#da584a" fill-opacity="0.72" stroke="none"/>
<path d="M340.7,412.7 L341.6,409.7 L342,404.5 L342.3,394.8 L342.7,381.9 L343.1,368.9 L343.6,361.5 L344.2,364 L344.8,368.9 L345.3,381.9 L345.7,394.8 L346.5,404.5 L347.8,409.7 L349.5,412.7" fill="none" stroke="#b41838" stroke-width="0.9" stroke-linejoin="round"/>
</g>
<rect x="327.3" y="339.5" width="74.6" height="73.2" fill="none" stroke="#000" stroke-width="1.6"/>
<path d="M322.9,412.5H327.3M324.9,410.5H327.3M324.9,408.5H327.3M324.9,406.5H327.3M324.9,403.5H327.3M324.9,401.5H327.3M322.9,399.5H327.3M324.9,397.5H327.3M324.9,395.5H327.3M324.9,392.5H327.3M324.9,390.5H327.3M324.9,388.5H327.3M322.9,386.5H327.3M324.9,383.5H327.3M324.9,381.5H327.3M324.9,379.5H327.3M324.9,377.5H327.3M324.9,375.5H327.3M322.9,372.5H327.3M324.9,370.5H327.3M324.9,368.5H327.3M324.9,366.5H327.3M324.9,364.5H327.3M324.9,361.5H327.3M322.9,359.5H327.3M324.9,357.5H327.3M324.9,355.5H327.3M324.9,353.5H327.3M324.9,350.5H327.3M324.9,348.5H327.3M322.9,346.5H327.3M324.9,344.5H327.3M324.9,341.5H327.3" stroke="#1a1a1a" stroke-width="1" fill="none"/>
<text x="319.4" y="415.3" font-size="8.6" text-anchor="end" font-weight="normal" fill="#1e1e1e" textLength="4.2" lengthAdjust="spacingAndGlyphs" >0</text>
<text x="319.4" y="402.04" font-size="8.6" text-anchor="end" font-weight="normal" fill="#1e1e1e" textLength="8.4" lengthAdjust="spacingAndGlyphs" >20</text>
<text x="319.4" y="388.78" font-size="8.6" text-anchor="end" font-weight="normal" fill="#1e1e1e" textLength="8.4" lengthAdjust="spacingAndGlyphs" >40</text>
<text x="319.4" y="375.52" font-size="8.6" text-anchor="end" font-weight="normal" fill="#1e1e1e" textLength="8.4" lengthAdjust="spacingAndGlyphs" >60</text>
<text x="319.4" y="362.26" font-size="8.6" text-anchor="end" font-weight="normal" fill="#1e1e1e" textLength="8.4" lengthAdjust="spacingAndGlyphs" >80</text>
<text x="319.4" y="349" font-size="8.6" text-anchor="end" font-weight="normal" fill="#1e1e1e" textLength="12.6" lengthAdjust="spacingAndGlyphs" >100</text>
<path d="M331.5,412.7v3.6M343.5,412.7v3.6M355.5,412.7v3.6M375.5,412.7v3.6M392.5,412.7v3.6M342.5,412.7v2.8M344.5,412.7v2.8M345.5,412.7v2.8M361.5,412.7v2.0M365.5,412.7v2.0M367.5,412.7v2.0M369.5,412.7v2.0M370.5,412.7v2.0M372.5,412.7v2.0M373.5,412.7v2.0M374.5,412.7v2.0M380.5,412.7v2.0M383.5,412.7v2.0M385.5,412.7v2.0M387.5,412.7v2.0M388.5,412.7v2.0M389.5,412.7v2.0M390.5,412.7v2.0M391.5,412.7v2.0M397.5,412.7v2.0M400.5,412.7v2.0M334.5,412.7v2.0M337.5,412.7v2.0M340.5,412.7v2.0M341.5,412.7v2.0M347.5,412.7v2.0M349.5,412.7v2.0M351.5,412.7v2.0" stroke="#1a1a1a" stroke-width="1" fill="none"/>
<text x="331.93" y="430.5" font-size="8" text-anchor="middle" font-weight="normal" fill="#1e1e1e" >−10<tspan font-size="5.2" dy="-3.2">3</tspan></text>
<text x="344.64" y="430.5" font-size="8" text-anchor="middle" font-weight="normal" fill="#1e1e1e" >0</text>
<text x="355.67" y="430.5" font-size="8" text-anchor="middle" font-weight="normal" fill="#1e1e1e" >10<tspan font-size="5.2" dy="-3.2">3</tspan></text>
<text x="376.24" y="430.5" font-size="8" text-anchor="middle" font-weight="normal" fill="#1e1e1e" >10<tspan font-size="5.2" dy="-3.2">4</tspan></text>
<text x="393.55" y="430.5" font-size="8" text-anchor="middle" font-weight="normal" fill="#1e1e1e" >10<tspan font-size="5.2" dy="-3.2">5</tspan></text>
<clipPath id="c44"><rect x="433.2" y="334.8" width="76.1" height="78.6"/></clipPath>
<g clip-path="url(#c44)">
<path d="M440.9,413.4 L440.9,412.7 L442.1,399.4 L443.2,382.1 L444.4,364.8 L445.2,354.5 L445.8,351.6 L446.5,354.5 L447.1,368.3 L447.8,387.9 L448.8,405.2 L449.6,412.7 L449.6,413.4 Z" fill="#1f5a9e" fill-opacity="0.66" stroke="none"/>
<path d="M440.9,412.7 L442.1,399.4 L443.2,382.1 L444.4,364.8 L445.2,354.5 L445.8,351.6 L446.5,354.5 L447.1,368.3 L447.8,387.9 L448.8,405.2 L449.6,412.7" fill="none" stroke="#27477c" stroke-width="0.9" stroke-linejoin="round"/>
<path d="M442.3,413.4 L442.3,412.7 L444.2,405.2 L445.5,391.4 L446.9,376.4 L448.1,364.8 L449,358.5 L449.6,357.3 L450.4,362.5 L451.3,379.8 L452.2,393.7 L453.4,401.7 L454.8,402.3 L456.1,404.1 L457.6,406.9 L460,411 L462.3,412.7 L465.1,411.5 L467.4,412.1 L470.9,412.7 L474.4,412.1 L476.7,411.9 L480.1,412.7 L480.1,413.4 Z" fill="#da584a" fill-opacity="0.72" stroke="none"/>
<path d="M442.3,412.7 L444.2,405.2 L445.5,391.4 L446.9,376.4 L448.1,364.8 L449,358.5 L449.6,357.3 L450.4,362.5 L451.3,379.8 L452.2,393.7 L453.4,401.7 L454.8,402.3 L456.1,404.1 L457.6,406.9 L460,411 L462.3,412.7 L465.1,411.5 L467.4,412.1 L470.9,412.7 L474.4,412.1 L476.7,411.9 L480.1,412.7" fill="none" stroke="#b41838" stroke-width="0.9" stroke-linejoin="round"/>
</g>
<rect x="433.2" y="334.8" width="76.1" height="78.6" fill="none" stroke="#000" stroke-width="1.6"/>
<path d="M428.8,413.5H433.2M430.8,411.5H433.2M430.8,408.5H433.2M430.8,406.5H433.2M430.8,403.5H433.2M430.8,401.5H433.2M428.8,399.5H433.2M430.8,396.5H433.2M430.8,394.5H433.2M430.8,391.5H433.2M430.8,389.5H433.2M430.8,387.5H433.2M428.8,384.5H433.2M430.8,382.5H433.2M430.8,379.5H433.2M430.8,377.5H433.2M430.8,375.5H433.2M430.8,372.5H433.2M428.8,370.5H433.2M430.8,367.5H433.2M430.8,365.5H433.2M430.8,363.5H433.2M430.8,360.5H433.2M430.8,358.5H433.2M428.8,355.5H433.2M430.8,353.5H433.2M430.8,351.5H433.2M430.8,348.5H433.2M430.8,346.5H433.2M430.8,343.5H433.2M428.8,341.5H433.2M430.8,339.5H433.2M430.8,336.5H433.2" stroke="#1a1a1a" stroke-width="1" fill="none"/>
<text x="425.3" y="416" font-size="8.6" text-anchor="end" font-weight="normal" fill="#1e1e1e" textLength="4.2" lengthAdjust="spacingAndGlyphs" >0</text>
<text x="425.3" y="401.62" font-size="8.6" text-anchor="end" font-weight="normal" fill="#1e1e1e" textLength="8.4" lengthAdjust="spacingAndGlyphs" >20</text>
<text x="425.3" y="387.24" font-size="8.6" text-anchor="end" font-weight="normal" fill="#1e1e1e" textLength="8.4" lengthAdjust="spacingAndGlyphs" >40</text>
<text x="425.3" y="372.86" font-size="8.6" text-anchor="end" font-weight="normal" fill="#1e1e1e" textLength="8.4" lengthAdjust="spacingAndGlyphs" >60</text>
<text x="425.3" y="358.48" font-size="8.6" text-anchor="end" font-weight="normal" fill="#1e1e1e" textLength="8.4" lengthAdjust="spacingAndGlyphs" >80</text>
<text x="425.3" y="344.1" font-size="8.6" text-anchor="end" font-weight="normal" fill="#1e1e1e" textLength="12.6" lengthAdjust="spacingAndGlyphs" >100</text>
<path d="M437.5,413.4v3.6M449.5,413.4v3.6M462.5,413.4v3.6M482.5,413.4v3.6M499.5,413.4v3.6M448.5,413.4v2.8M450.5,413.4v2.8M451.5,413.4v2.8M468.5,413.4v2.0M471.5,413.4v2.0M474.5,413.4v2.0M476.5,413.4v2.0M477.5,413.4v2.0M479.5,413.4v2.0M480.5,413.4v2.0M481.5,413.4v2.0M487.5,413.4v2.0M490.5,413.4v2.0M492.5,413.4v2.0M494.5,413.4v2.0M495.5,413.4v2.0M497.5,413.4v2.0M498.5,413.4v2.0M499.5,413.4v2.0M505.5,413.4v2.0M508.5,413.4v2.0M440.5,413.4v2.0M443.5,413.4v2.0M446.5,413.4v2.0M447.5,413.4v2.0M453.5,413.4v2.0M455.5,413.4v2.0M458.5,413.4v2.0" stroke="#1a1a1a" stroke-width="1" fill="none"/>
<text x="437.91" y="431.2" font-size="8" text-anchor="middle" font-weight="normal" fill="#1e1e1e" >−10<tspan font-size="5.2" dy="-3.2">3</tspan></text>
<text x="450.86" y="431.2" font-size="8" text-anchor="middle" font-weight="normal" fill="#1e1e1e" >0</text>
<text x="462.14" y="431.2" font-size="8" text-anchor="middle" font-weight="normal" fill="#1e1e1e" >10<tspan font-size="5.2" dy="-3.2">3</tspan></text>
<text x="483.11" y="431.2" font-size="8" text-anchor="middle" font-weight="normal" fill="#1e1e1e" >10<tspan font-size="5.2" dy="-3.2">4</tspan></text>
<text x="500.76" y="431.2" font-size="8" text-anchor="middle" font-weight="normal" fill="#1e1e1e" >10<tspan font-size="5.2" dy="-3.2">5</tspan></text>
<clipPath id="c51"><rect x="110.7" y="449.8" width="75.2" height="77.3"/></clipPath>
<g clip-path="url(#c51)">
<path d="M118.5,527.1 L118.5,527 L120.5,521.3 L122.2,513.1 L123.8,496.8 L125,480.5 L125.6,470 L126.2,461.7 L126.8,468 L127.3,480 L127.9,490 L128.6,505 L129.7,517.2 L131.2,523.8 L132.8,527 L132.8,527.1 Z" fill="#1f5a9e" fill-opacity="0.66" stroke="none"/>
<path d="M118.5,527 L120.5,521.3 L122.2,513.1 L123.8,496.8 L125,480.5 L125.6,470 L126.2,461.7 L126.8,468 L127.3,480 L127.9,490 L128.6,505 L129.7,517.2 L131.2,523.8 L132.8,527" fill="none" stroke="#27477c" stroke-width="0.9" stroke-linejoin="round"/>
<path d="M118.7,527.1 L118.7,527 L120.7,521.3 L122.4,513.1 L124,496.8 L125.2,480.5 L125.8,474 L126.4,472 L127,473 L127.5,480 L128.1,490 L128.8,505 L130,517.2 L131.6,523.8 L133.2,527 L133.2,527.1 Z" fill="#da584a" fill-opacity="0.72" stroke="none"/>
<path d="M118.7,527 L120.7,521.3 L122.4,513.1 L124,496.8 L125.2,480.5 L125.8,474 L126.4,472 L127,473 L127.5,480 L128.1,490 L128.8,505 L130,517.2 L131.6,523.8 L133.2,527" fill="none" stroke="#b41838" stroke-width="0.9" stroke-linejoin="round"/>
</g>
<rect x="110.7" y="449.8" width="75.2" height="77.3" fill="none" stroke="#000" stroke-width="1.6"/>
<path d="M106.3,527.5H110.7M108.3,524.5H110.7M108.3,522.5H110.7M108.3,520.5H110.7M108.3,517.5H110.7M108.3,515.5H110.7M106.3,513.5H110.7M108.3,510.5H110.7M108.3,508.5H110.7M108.3,506.5H110.7M108.3,503.5H110.7M108.3,501.5H110.7M106.3,499.5H110.7M108.3,496.5H110.7M108.3,494.5H110.7M108.3,492.5H110.7M108.3,489.5H110.7M108.3,487.5H110.7M106.3,485.5H110.7M108.3,482.5H110.7M108.3,480.5H110.7M108.3,478.5H110.7M108.3,475.5H110.7M108.3,473.5H110.7M106.3,471.5H110.7M108.3,468.5H110.7M108.3,466.5H110.7M108.3,464.5H110.7M108.3,461.5H110.7M108.3,459.5H110.7M106.3,456.5H110.7M108.3,454.5H110.7M108.3,452.5H110.7" stroke="#1a1a1a" stroke-width="1" fill="none"/>
<text x="102.8" y="529.7" font-size="8.6" text-anchor="end" font-weight="normal" fill="#1e1e1e" textLength="4.2" lengthAdjust="spacingAndGlyphs" >0</text>
<text x="102.8" y="515.68" font-size="8.6" text-anchor="end" font-weight="normal" fill="#1e1e1e" textLength="8.4" lengthAdjust="spacingAndGlyphs" >20</text>
<text x="102.8" y="501.66" font-size="8.6" text-anchor="end" font-weight="normal" fill="#1e1e1e" textLength="8.4" lengthAdjust="spacingAndGlyphs" >40</text>
<text x="102.8" y="487.64" font-size="8.6" text-anchor="end" font-weight="normal" fill="#1e1e1e" textLength="8.4" lengthAdjust="spacingAndGlyphs" >60</text>
<text x="102.8" y="473.62" font-size="8.6" text-anchor="end" font-weight="normal" fill="#1e1e1e" textLength="8.4" lengthAdjust="spacingAndGlyphs" >80</text>
<text x="102.8" y="459.6" font-size="8.6" text-anchor="end" font-weight="normal" fill="#1e1e1e" textLength="12.6" lengthAdjust="spacingAndGlyphs" >100</text>
<path d="M115.5,527.1v3.6M126.5,527.1v3.6M139.5,527.1v3.6M159.5,527.1v3.6M176.5,527.1v3.6M125.5,527.1v2.8M127.5,527.1v2.8M128.5,527.1v2.8M145.5,527.1v2.0M148.5,527.1v2.0M151.5,527.1v2.0M153.5,527.1v2.0M154.5,527.1v2.0M156.5,527.1v2.0M157.5,527.1v2.0M158.5,527.1v2.0M164.5,527.1v2.0M167.5,527.1v2.0M169.5,527.1v2.0M171.5,527.1v2.0M172.5,527.1v2.0M173.5,527.1v2.0M174.5,527.1v2.0M175.5,527.1v2.0M181.5,527.1v2.0M184.5,527.1v2.0M118.5,527.1v2.0M120.5,527.1v2.0M123.5,527.1v2.0M125.5,527.1v2.0M130.5,527.1v2.0M133.5,527.1v2.0M135.5,527.1v2.0" stroke="#1a1a1a" stroke-width="1" fill="none"/>
<text x="115.36" y="544.9" font-size="8" text-anchor="middle" font-weight="normal" fill="#1e1e1e" >−10<tspan font-size="5.2" dy="-3.2">3</tspan></text>
<text x="128.17" y="544.9" font-size="8" text-anchor="middle" font-weight="normal" fill="#1e1e1e" >0</text>
<text x="139.3" y="544.9" font-size="8" text-anchor="middle" font-weight="normal" fill="#1e1e1e" >10<tspan font-size="5.2" dy="-3.2">3</tspan></text>
<text x="160.03" y="544.9" font-size="8" text-anchor="middle" font-weight="normal" fill="#1e1e1e" >10<tspan font-size="5.2" dy="-3.2">4</tspan></text>
<text x="177.48" y="544.9" font-size="8" text-anchor="middle" font-weight="normal" fill="#1e1e1e" >10<tspan font-size="5.2" dy="-3.2">5</tspan></text>
<text transform="translate(83.3,488.5) rotate(-90)" x="0" y="0" font-size="10.6" text-anchor="middle" fill="#1e1e1e" textLength="77.4" lengthAdjust="spacingAndGlyphs">Normalized to mode</text>
<clipPath id="c52"><rect x="217.8" y="450" width="74.9" height="77"/></clipPath>
<g clip-path="url(#c52)">
<path d="M224.1,527 L224.1,526.8 L225.1,523.8 L226.1,517.2 L227.2,505 L228,488.7 L228.8,472.3 L229.6,461.7 L230.3,466 L231,472.3 L231.8,480.5 L233.1,496.8 L234,513.1 L234.7,521.3 L235.5,526.8 L235.5,527 Z" fill="#1f5a9e" fill-opacity="0.66" stroke="none"/>
<path d="M224.1,526.8 L225.1,523.8 L226.1,517.2 L227.2,505 L228,488.7 L228.8,472.3 L229.6,461.7 L230.3,466 L231,472.3 L231.8,480.5 L233.1,496.8 L234,513.1 L234.7,521.3 L235.5,526.8" fill="none" stroke="#27477c" stroke-width="0.9" stroke-linejoin="round"/>
<path d="M226.1,527 L226.1,526.8 L227.8,523.8 L229.4,517.2 L231,505 L232.1,488.7 L232.7,480.5 L233.2,472.3 L234,465.4 L234.6,468 L235.1,472.3 L236.3,488.7 L237.6,500.9 L238.8,509.1 L240.4,513.1 L243.7,517.2 L247.8,521.3 L252.7,524.6 L256.7,526.8 L256.7,527 Z" fill="#da584a" fill-opacity="0.72" stroke="none"/>
<path d="M226.1,526.8 L227.8,523.8 L229.4,517.2 L231,505 L232.1,488.7 L232.7,480.5 L233.2,472.3 L234,465.4 L234.6,468 L235.1,472.3 L236.3,488.7 L237.6,500.9 L238.8,509.1 L240.4,513.1 L243.7,517.2 L247.8,521.3 L252.7,524.6 L256.7,526.8" fill="none" stroke="#b41838" stroke-width="0.9" stroke-linejoin="round"/>
</g>
<rect x="217.8" y="450" width="74.9" height="77" fill="none" stroke="#000" stroke-width="1.6"/>
<path d="M213.4,526.5H217.8M215.4,524.5H217.8M215.4,522.5H217.8M215.4,520.5H217.8M215.4,517.5H217.8M215.4,515.5H217.8M213.4,513.5H217.8M215.4,510.5H217.8M215.4,508.5H217.8M215.4,506.5H217.8M215.4,504.5H217.8M215.4,501.5H217.8M213.4,499.5H217.8M215.4,497.5H217.8M215.4,494.5H217.8M215.4,492.5H217.8M215.4,490.5H217.8M215.4,487.5H217.8M213.4,485.5H217.8M215.4,483.5H217.8M215.4,481.5H217.8M215.4,478.5H217.8M215.4,476.5H217.8M215.4,474.5H217.8M213.4,471.5H217.8M215.4,469.5H217.8M215.4,467.5H217.8M215.4,464.5H217.8M215.4,462.5H217.8M215.4,460.5H217.8M213.4,458.5H217.8M215.4,455.5H217.8M215.4,453.5H217.8M215.4,451.5H217.8" stroke="#1a1a1a" stroke-width="1" fill="none"/>
<text x="209.9" y="529.6" font-size="8.6" text-anchor="end" font-weight="normal" fill="#1e1e1e" textLength="4.2" lengthAdjust="spacingAndGlyphs" >0</text>
<text x="209.9" y="515.82" font-size="8.6" text-anchor="end" font-weight="normal" fill="#1e1e1e" textLength="8.4" lengthAdjust="spacingAndGlyphs" >20</text>
<text x="209.9" y="502.04" font-size="8.6" text-anchor="end" font-weight="normal" fill="#1e1e1e" textLength="8.4" lengthAdjust="spacingAndGlyphs" >40</text>
<text x="209.9" y="488.26" font-size="8.6" text-anchor="end" font-weight="normal" fill="#1e1e1e" textLength="8.4" lengthAdjust="spacingAndGlyphs" >60</text>
<text x="209.9" y="474.48" font-size="8.6" text-anchor="end" font-weight="normal" fill="#1e1e1e" textLength="8.4" lengthAdjust="spacingAndGlyphs" >80</text>
<text x="209.9" y="460.7" font-size="8.6" text-anchor="end" font-weight="normal" fill="#1e1e1e" textLength="12.6" lengthAdjust="spacingAndGlyphs" >100</text>
<path d="M222.5,527v3.6M233.5,527v3.6M246.5,527v3.6M266.5,527v3.6M283.5,527v3.6M232.5,527v2.8M234.5,527v2.8M235.5,527v2.8M252.5,527v2.0M255.5,527v2.0M258.5,527v2.0M260.5,527v2.0M261.5,527v2.0M262.5,527v2.0M264.5,527v2.0M265.5,527v2.0M271.5,527v2.0M274.5,527v2.0M276.5,527v2.0M278.5,527v2.0M279.5,527v2.0M280.5,527v2.0M281.5,527v2.0M282.5,527v2.0M288.5,527v2.0M291.5,527v2.0M225.5,527v2.0M228.5,527v2.0M230.5,527v2.0M232.5,527v2.0M237.5,527v2.0M240.5,527v2.0M242.5,527v2.0" stroke="#1a1a1a" stroke-width="1" fill="none"/>
<text x="222.44" y="544.8" font-size="8" text-anchor="middle" font-weight="normal" fill="#1e1e1e" >−10<tspan font-size="5.2" dy="-3.2">3</tspan></text>
<text x="235.2" y="544.8" font-size="8" text-anchor="middle" font-weight="normal" fill="#1e1e1e" >0</text>
<text x="246.29" y="544.8" font-size="8" text-anchor="middle" font-weight="normal" fill="#1e1e1e" >10<tspan font-size="5.2" dy="-3.2">3</tspan></text>
<text x="266.94" y="544.8" font-size="8" text-anchor="middle" font-weight="normal" fill="#1e1e1e" >10<tspan font-size="5.2" dy="-3.2">4</tspan></text>
<text x="284.31" y="544.8" font-size="8" text-anchor="middle" font-weight="normal" fill="#1e1e1e" >10<tspan font-size="5.2" dy="-3.2">5</tspan></text>
<clipPath id="c53"><rect x="323.9" y="450" width="74.7" height="76.7"/></clipPath>
<g clip-path="url(#c53)">
<path d="M336.9,526.7 L336.9,526.6 L337.8,512.3 L338.5,495.1 L339,480.4 L339.5,472.7 L340.2,480.4 L340.8,499.4 L341.5,516.7 L342.5,526.6 L342.5,526.7 Z" fill="#1f5a9e" fill-opacity="0.66" stroke="none"/>
<path d="M336.9,526.6 L337.8,512.3 L338.5,495.1 L339,480.4 L339.5,472.7 L340.2,480.4 L340.8,499.4 L341.5,516.7 L342.5,526.6" fill="none" stroke="#27477c" stroke-width="0.9" stroke-linejoin="round"/>
<path d="M337.4,526.7 L337.4,526.6 L338.2,514.1 L339.1,496.8 L339.9,483 L340.8,480.4 L341.7,483 L342.3,495.1 L343,508 L344,518.4 L345.6,523.6 L348.1,525.7 L350.7,526.6 L350.7,526.7 Z" fill="#da584a" fill-opacity="0.72" stroke="none"/>
<path d="M337.4,526.6 L338.2,514.1 L339.1,496.8 L339.9,483 L340.8,480.4 L341.7,483 L342.3,495.1 L343,508 L344,518.4 L345.6,523.6 L348.1,525.7 L350.7,526.6" fill="none" stroke="#b41838" stroke-width="0.9" stroke-linejoin="round"/>
</g>
<rect x="323.9" y="450" width="74.7" height="76.7" fill="none" stroke="#000" stroke-width="1.6"/>
<path d="M319.5,526.5H323.9M321.5,524.5H323.9M321.5,522.5H323.9M321.5,520.5H323.9M321.5,517.5H323.9M321.5,515.5H323.9M319.5,513.5H323.9M321.5,511.5H323.9M321.5,508.5H323.9M321.5,506.5H323.9M321.5,504.5H323.9M321.5,502.5H323.9M319.5,500.5H323.9M321.5,497.5H323.9M321.5,495.5H323.9M321.5,493.5H323.9M321.5,491.5H323.9M321.5,488.5H323.9M319.5,486.5H323.9M321.5,484.5H323.9M321.5,482.5H323.9M321.5,480.5H323.9M321.5,477.5H323.9M321.5,475.5H323.9M319.5,473.5H323.9M321.5,471.5H323.9M321.5,468.5H323.9M321.5,466.5H323.9M321.5,464.5H323.9M321.5,462.5H323.9M319.5,460.5H323.9M321.5,457.5H323.9M321.5,455.5H323.9M321.5,453.5H323.9" stroke="#1a1a1a" stroke-width="1" fill="none"/>
<text x="316" y="529.3" font-size="8.6" text-anchor="end" font-weight="normal" fill="#1e1e1e" textLength="4.2" lengthAdjust="spacingAndGlyphs" >0</text>
<text x="316" y="515.98" font-size="8.6" text-anchor="end" font-weight="normal" fill="#1e1e1e" textLength="8.4" lengthAdjust="spacingAndGlyphs" >20</text>
<text x="316" y="502.66" font-size="8.6" text-anchor="end" font-weight="normal" fill="#1e1e1e" textLength="8.4" lengthAdjust="spacingAndGlyphs" >40</text>
<text x="316" y="489.34" font-size="8.6" text-anchor="end" font-weight="normal" fill="#1e1e1e" textLength="8.4" lengthAdjust="spacingAndGlyphs" >60</text>
<text x="316" y="476.02" font-size="8.6" text-anchor="end" font-weight="normal" fill="#1e1e1e" textLength="8.4" lengthAdjust="spacingAndGlyphs" >80</text>
<text x="316" y="462.7" font-size="8.6" text-anchor="end" font-weight="normal" fill="#1e1e1e" textLength="12.6" lengthAdjust="spacingAndGlyphs" >100</text>
<path d="M328.5,526.7v3.6M339.5,526.7v3.6M352.5,526.7v3.6M372.5,526.7v3.6M389.5,526.7v3.6M338.5,526.7v2.8M340.5,526.7v2.8M341.5,526.7v2.8M358.5,526.7v2.0M361.5,526.7v2.0M364.5,526.7v2.0M366.5,526.7v2.0M367.5,526.7v2.0M368.5,526.7v2.0M370.5,526.7v2.0M371.5,526.7v2.0M377.5,526.7v2.0M380.5,526.7v2.0M382.5,526.7v2.0M384.5,526.7v2.0M385.5,526.7v2.0M386.5,526.7v2.0M387.5,526.7v2.0M388.5,526.7v2.0M394.5,526.7v2.0M397.5,526.7v2.0M331.5,526.7v2.0M334.5,526.7v2.0M336.5,526.7v2.0M338.5,526.7v2.0M343.5,526.7v2.0M346.5,526.7v2.0M348.5,526.7v2.0" stroke="#1a1a1a" stroke-width="1" fill="none"/>
<text x="334.53" y="544.5" font-size="8" text-anchor="middle" font-weight="normal" fill="#1e1e1e" >−10<tspan font-size="5.2" dy="-3.2">3</tspan></text>
<text x="347.26" y="544.5" font-size="8" text-anchor="middle" font-weight="normal" fill="#1e1e1e" >0</text>
<text x="358.31" y="544.5" font-size="8" text-anchor="middle" font-weight="normal" fill="#1e1e1e" >10<tspan font-size="5.2" dy="-3.2">3</tspan></text>
<text x="378.91" y="544.5" font-size="8" text-anchor="middle" font-weight="normal" fill="#1e1e1e" >10<tspan font-size="5.2" dy="-3.2">4</tspan></text>
<text x="396.24" y="544.5" font-size="8" text-anchor="middle" font-weight="normal" fill="#1e1e1e" >10<tspan font-size="5.2" dy="-3.2">5</tspan></text>
<clipPath id="c61"><rect x="112" y="552.7" width="73.8" height="75.5"/></clipPath>
<g clip-path="url(#c61)">
<path d="M125.5,628.2 L125.5,628 L126.4,605.7 L127.1,584.2 L127.5,570.4 L127.9,569.3 L128.4,571.2 L129.1,592.8 L130,614.3 L131.6,628 L131.6,628.2 Z" fill="#1f5a9e" fill-opacity="0.66" stroke="none"/>
<path d="M125.5,628 L126.4,605.7 L127.1,584.2 L127.5,570.4 L127.9,569.3 L128.4,571.2 L129.1,592.8 L130,614.3 L131.6,628" fill="none" stroke="#27477c" stroke-width="0.9" stroke-linejoin="round"/>
<path d="M125.1,628.2 L125.1,628 L125.9,614.3 L126.6,597.1 L127.1,584.2 L127.5,576.4 L128.4,576.4 L129,588.5 L129.7,605.7 L130.5,618.7 L131.7,625.6 L132.8,628 L132.8,628.2 Z" fill="#da584a" fill-opacity="0.72" stroke="none"/>
<path d="M125.1,628 L125.9,614.3 L126.6,597.1 L127.1,584.2 L127.5,576.4 L128.4,576.4 L129,588.5 L129.7,605.7 L130.5,618.7 L131.7,625.6 L132.8,628" fill="none" stroke="#b41838" stroke-width="0.9" stroke-linejoin="round"/>
</g>
<rect x="112" y="552.7" width="73.8" height="75.5" fill="none" stroke="#000" stroke-width="1.6"/>
<path d="M107.6,628.5H112M109.6,625.5H112M109.6,623.5H112M109.6,621.5H112M109.6,619.5H112M109.6,616.5H112M107.6,614.5H112M109.6,612.5H112M109.6,609.5H112M109.6,607.5H112M109.6,605.5H112M109.6,603.5H112M107.6,600.5H112M109.6,598.5H112M109.6,596.5H112M109.6,593.5H112M109.6,591.5H112M109.6,589.5H112M107.6,587.5H112M109.6,584.5H112M109.6,582.5H112M109.6,580.5H112M109.6,577.5H112M109.6,575.5H112M107.6,573.5H112M109.6,571.5H112M109.6,568.5H112M109.6,566.5H112M109.6,564.5H112M109.6,561.5H112M107.6,559.5H112M109.6,557.5H112M109.6,555.5H112" stroke="#1a1a1a" stroke-width="1" fill="none"/>
<text x="104.1" y="630.8" font-size="8.6" text-anchor="end" font-weight="normal" fill="#1e1e1e" textLength="4.2" lengthAdjust="spacingAndGlyphs" >0</text>
<text x="104.1" y="617.1" font-size="8.6" text-anchor="end" font-weight="normal" fill="#1e1e1e" textLength="8.4" lengthAdjust="spacingAndGlyphs" >20</text>
<text x="104.1" y="603.4" font-size="8.6" text-anchor="end" font-weight="normal" fill="#1e1e1e" textLength="8.4" lengthAdjust="spacingAndGlyphs" >40</text>
<text x="104.1" y="589.7" font-size="8.6" text-anchor="end" font-weight="normal" fill="#1e1e1e" textLength="8.4" lengthAdjust="spacingAndGlyphs" >60</text>
<text x="104.1" y="576" font-size="8.6" text-anchor="end" font-weight="normal" fill="#1e1e1e" textLength="8.4" lengthAdjust="spacingAndGlyphs" >80</text>
<text x="104.1" y="562.3" font-size="8.6" text-anchor="end" font-weight="normal" fill="#1e1e1e" textLength="12.6" lengthAdjust="spacingAndGlyphs" >100</text>
<path d="M116.5,628.2v3.6M127.5,628.2v3.6M139.5,628.2v3.6M159.5,628.2v3.6M176.5,628.2v3.6M126.5,628.2v2.8M128.5,628.2v2.8M129.5,628.2v2.8M145.5,628.2v2.0M149.5,628.2v2.0M151.5,628.2v2.0M153.5,628.2v2.0M155.5,628.2v2.0M156.5,628.2v2.0M157.5,628.2v2.0M158.5,628.2v2.0M164.5,628.2v2.0M167.5,628.2v2.0M169.5,628.2v2.0M171.5,628.2v2.0M172.5,628.2v2.0M173.5,628.2v2.0M174.5,628.2v2.0M175.5,628.2v2.0M181.5,628.2v2.0M184.5,628.2v2.0M119.5,628.2v2.0M122.5,628.2v2.0M124.5,628.2v2.0M126.5,628.2v2.0M131.5,628.2v2.0M133.5,628.2v2.0M136.5,628.2v2.0" stroke="#1a1a1a" stroke-width="1" fill="none"/>
<text x="116.58" y="646" font-size="8" text-anchor="middle" font-weight="normal" fill="#1e1e1e" >−10<tspan font-size="5.2" dy="-3.2">3</tspan></text>
<text x="129.17" y="646" font-size="8" text-anchor="middle" font-weight="normal" fill="#1e1e1e" >0</text>
<text x="140.07" y="646" font-size="8" text-anchor="middle" font-weight="normal" fill="#1e1e1e" >10<tspan font-size="5.2" dy="-3.2">3</tspan></text>
<text x="160.43" y="646" font-size="8" text-anchor="middle" font-weight="normal" fill="#1e1e1e" >10<tspan font-size="5.2" dy="-3.2">4</tspan></text>
<text x="177.55" y="646" font-size="8" text-anchor="middle" font-weight="normal" fill="#1e1e1e" >10<tspan font-size="5.2" dy="-3.2">5</tspan></text>
<text transform="translate(84.5,589.5) rotate(-90)" x="0" y="0" font-size="10.6" text-anchor="middle" fill="#1e1e1e" textLength="77.4" lengthAdjust="spacingAndGlyphs">Normalized to mode</text>
<clipPath id="c62"><rect x="219.3" y="552.7" width="73.5" height="76.8"/></clipPath>
<g clip-path="url(#c62)">
<path d="M226.3,629.5 L226.3,629.2 L227.2,626.5 L229.3,618.9 L230.9,606.3 L232.2,589.6 L233.4,572.8 L234,566 L234.5,563.1 L235.1,566 L236.1,572.8 L237,589.6 L238.2,606.3 L239.5,618.9 L241.2,626.5 L243,629.2 L243,629.5 Z" fill="#1f5a9e" fill-opacity="0.66" stroke="none"/>
<path d="M226.3,629.2 L227.2,626.5 L229.3,618.9 L230.9,606.3 L232.2,589.6 L233.4,572.8 L234,566 L234.5,563.1 L235.1,566 L236.1,572.8 L237,589.6 L238.2,606.3 L239.5,618.9 L241.2,626.5 L243,629.2" fill="none" stroke="#27477c" stroke-width="0.9" stroke-linejoin="round"/>
<path d="M226.5,629.5 L226.5,629.2 L227.4,626.5 L229.5,618.9 L231.1,606.3 L232.4,589.6 L233.6,572.8 L234.2,566 L234.7,563.1 L235.3,566 L236.4,572.8 L237.4,589.6 L238.7,606.3 L240.1,618.9 L242,626.5 L244.1,629.2 L244.1,629.5 Z" fill="#da584a" fill-opacity="0.72" stroke="none"/>
<path d="M226.5,629.2 L227.4,626.5 L229.5,618.9 L231.1,606.3 L232.4,589.6 L233.6,572.8 L234.2,566 L234.7,563.1 L235.3,566 L236.4,572.8 L237.4,589.6 L238.7,606.3 L240.1,618.9 L242,626.5 L244.1,629.2" fill="none" stroke="#b41838" stroke-width="0.9" stroke-linejoin="round"/>
</g>
<rect x="219.3" y="552.7" width="73.5" height="76.8" fill="none" stroke="#000" stroke-width="1.6"/>
<path d="M214.9,629.5H219.3M216.9,627.5H219.3M216.9,624.5H219.3M216.9,622.5H219.3M216.9,620.5H219.3M216.9,617.5H219.3M214.9,615.5H219.3M216.9,613.5H219.3M216.9,610.5H219.3M216.9,608.5H219.3M216.9,606.5H219.3M216.9,603.5H219.3M214.9,601.5H219.3M216.9,599.5H219.3M216.9,596.5H219.3M216.9,594.5H219.3M216.9,592.5H219.3M216.9,589.5H219.3M214.9,587.5H219.3M216.9,585.5H219.3M216.9,582.5H219.3M216.9,580.5H219.3M216.9,578.5H219.3M216.9,575.5H219.3M214.9,573.5H219.3M216.9,571.5H219.3M216.9,569.5H219.3M216.9,566.5H219.3M216.9,564.5H219.3M216.9,562.5H219.3M214.9,559.5H219.3M216.9,557.5H219.3M216.9,555.5H219.3" stroke="#1a1a1a" stroke-width="1" fill="none"/>
<text x="211.4" y="632.1" font-size="8.6" text-anchor="end" font-weight="normal" fill="#1e1e1e" textLength="4.2" lengthAdjust="spacingAndGlyphs" >0</text>
<text x="211.4" y="618.14" font-size="8.6" text-anchor="end" font-weight="normal" fill="#1e1e1e" textLength="8.4" lengthAdjust="spacingAndGlyphs" >20</text>
<text x="211.4" y="604.18" font-size="8.6" text-anchor="end" font-weight="normal" fill="#1e1e1e" textLength="8.4" lengthAdjust="spacingAndGlyphs" >40</text>
<text x="211.4" y="590.22" font-size="8.6" text-anchor="end" font-weight="normal" fill="#1e1e1e" textLength="8.4" lengthAdjust="spacingAndGlyphs" >60</text>
<text x="211.4" y="576.26" font-size="8.6" text-anchor="end" font-weight="normal" fill="#1e1e1e" textLength="8.4" lengthAdjust="spacingAndGlyphs" >80</text>
<text x="211.4" y="562.3" font-size="8.6" text-anchor="end" font-weight="normal" fill="#1e1e1e" textLength="12.6" lengthAdjust="spacingAndGlyphs" >100</text>
<path d="M223.5,629.5v3.6M235.5,629.5v3.6M247.5,629.5v3.6M266.5,629.5v3.6M283.5,629.5v3.6M234.5,629.5v2.8M236.5,629.5v2.8M237.5,629.5v2.8M253.5,629.5v2.0M256.5,629.5v2.0M258.5,629.5v2.0M260.5,629.5v2.0M262.5,629.5v2.0M263.5,629.5v2.0M264.5,629.5v2.0M265.5,629.5v2.0M271.5,629.5v2.0M274.5,629.5v2.0M276.5,629.5v2.0M278.5,629.5v2.0M279.5,629.5v2.0M281.5,629.5v2.0M282.5,629.5v2.0M282.5,629.5v2.0M288.5,629.5v2.0M291.5,629.5v2.0M226.5,629.5v2.0M229.5,629.5v2.0M231.5,629.5v2.0M233.5,629.5v2.0M238.5,629.5v2.0M241.5,629.5v2.0M243.5,629.5v2.0" stroke="#1a1a1a" stroke-width="1" fill="none"/>
<text x="223.86" y="647.3" font-size="8" text-anchor="middle" font-weight="normal" fill="#1e1e1e" >−10<tspan font-size="5.2" dy="-3.2">3</tspan></text>
<text x="236.4" y="647.3" font-size="8" text-anchor="middle" font-weight="normal" fill="#1e1e1e" >0</text>
<text x="247.26" y="647.3" font-size="8" text-anchor="middle" font-weight="normal" fill="#1e1e1e" >10<tspan font-size="5.2" dy="-3.2">3</tspan></text>
<text x="267.53" y="647.3" font-size="8" text-anchor="middle" font-weight="normal" fill="#1e1e1e" >10<tspan font-size="5.2" dy="-3.2">4</tspan></text>
<text x="284.59" y="647.3" font-size="8" text-anchor="middle" font-weight="normal" fill="#1e1e1e" >10<tspan font-size="5.2" dy="-3.2">5</tspan></text>
<clipPath id="c63"><rect x="326.1" y="552" width="73.9" height="77.1"/></clipPath>
<g clip-path="url(#c63)">
<path d="M339.8,629.1 L339.8,628.6 L340.7,610 L341.3,588.5 L341.9,573 L342.4,568.2 L342.9,573.8 L343.5,592.8 L344.3,614.3 L345.4,628.6 L345.4,629.1 Z" fill="#1f5a9e" fill-opacity="0.66" stroke="none"/>
<path d="M339.8,628.6 L340.7,610 L341.3,588.5 L341.9,573 L342.4,568.2 L342.9,573.8 L343.5,592.8 L344.3,614.3 L345.4,628.6" fill="none" stroke="#27477c" stroke-width="0.9" stroke-linejoin="round"/>
<path d="M340.2,629.1 L340.2,628.6 L341.1,610 L341.8,592.8 L342.4,579 L343.1,575.6 L344.1,578.1 L344.8,592.8 L345.7,610 L346.7,621.2 L348.2,626.8 L350.1,628.6 L350.1,629.1 Z" fill="#da584a" fill-opacity="0.72" stroke="none"/>
<path d="M340.2,628.6 L341.1,610 L341.8,592.8 L342.4,579 L343.1,575.6 L344.1,578.1 L344.8,592.8 L345.7,610 L346.7,621.2 L348.2,626.8 L350.1,628.6" fill="none" stroke="#b41838" stroke-width="0.9" stroke-linejoin="round"/>
</g>
<rect x="326.1" y="552" width="73.9" height="77.1" fill="none" stroke="#000" stroke-width="1.6"/>
<path d="M321.7,629.5H326.1M323.7,626.5H326.1M323.7,624.5H326.1M323.7,622.5H326.1M323.7,619.5H326.1M323.7,617.5H326.1M321.7,615.5H326.1M323.7,612.5H326.1M323.7,610.5H326.1M323.7,608.5H326.1M323.7,605.5H326.1M323.7,603.5H326.1M321.7,600.5H326.1M323.7,598.5H326.1M323.7,596.5H326.1M323.7,593.5H326.1M323.7,591.5H326.1M323.7,589.5H326.1M321.7,586.5H326.1M323.7,584.5H326.1M323.7,582.5H326.1M323.7,579.5H326.1M323.7,577.5H326.1M323.7,575.5H326.1M321.7,572.5H326.1M323.7,570.5H326.1M323.7,568.5H326.1M323.7,565.5H326.1M323.7,563.5H326.1M323.7,561.5H326.1M321.7,558.5H326.1M323.7,556.5H326.1M323.7,554.5H326.1" stroke="#1a1a1a" stroke-width="1" fill="none"/>
<text x="318.2" y="631.7" font-size="8.6" text-anchor="end" font-weight="normal" fill="#1e1e1e" textLength="4.2" lengthAdjust="spacingAndGlyphs" >0</text>
<text x="318.2" y="617.64" font-size="8.6" text-anchor="end" font-weight="normal" fill="#1e1e1e" textLength="8.4" lengthAdjust="spacingAndGlyphs" >20</text>
<text x="318.2" y="603.58" font-size="8.6" text-anchor="end" font-weight="normal" fill="#1e1e1e" textLength="8.4" lengthAdjust="spacingAndGlyphs" >40</text>
<text x="318.2" y="589.52" font-size="8.6" text-anchor="end" font-weight="normal" fill="#1e1e1e" textLength="8.4" lengthAdjust="spacingAndGlyphs" >60</text>
<text x="318.2" y="575.46" font-size="8.6" text-anchor="end" font-weight="normal" fill="#1e1e1e" textLength="8.4" lengthAdjust="spacingAndGlyphs" >80</text>
<text x="318.2" y="561.4" font-size="8.6" text-anchor="end" font-weight="normal" fill="#1e1e1e" textLength="12.6" lengthAdjust="spacingAndGlyphs" >100</text>
<path d="M330.5,629.1v3.6M341.5,629.1v3.6M354.5,629.1v3.6M373.5,629.1v3.6M390.5,629.1v3.6M340.5,629.1v2.8M342.5,629.1v2.8M343.5,629.1v2.8M360.5,629.1v2.0M363.5,629.1v2.0M365.5,629.1v2.0M367.5,629.1v2.0M369.5,629.1v2.0M370.5,629.1v2.0M371.5,629.1v2.0M372.5,629.1v2.0M378.5,629.1v2.0M381.5,629.1v2.0M384.5,629.1v2.0M385.5,629.1v2.0M387.5,629.1v2.0M388.5,629.1v2.0M389.5,629.1v2.0M390.5,629.1v2.0M395.5,629.1v2.0M399.5,629.1v2.0M333.5,629.1v2.0M336.5,629.1v2.0M338.5,629.1v2.0M340.5,629.1v2.0M345.5,629.1v2.0M348.5,629.1v2.0M350.5,629.1v2.0" stroke="#1a1a1a" stroke-width="1" fill="none"/>
<text x="330.69" y="646.9" font-size="8" text-anchor="middle" font-weight="normal" fill="#1e1e1e" >−10<tspan font-size="5.2" dy="-3.2">3</tspan></text>
<text x="343.29" y="646.9" font-size="8" text-anchor="middle" font-weight="normal" fill="#1e1e1e" >0</text>
<text x="354.21" y="646.9" font-size="8" text-anchor="middle" font-weight="normal" fill="#1e1e1e" >10<tspan font-size="5.2" dy="-3.2">3</tspan></text>
<text x="374.59" y="646.9" font-size="8" text-anchor="middle" font-weight="normal" fill="#1e1e1e" >10<tspan font-size="5.2" dy="-3.2">4</tspan></text>
<text x="391.74" y="646.9" font-size="8" text-anchor="middle" font-weight="normal" fill="#1e1e1e" >10<tspan font-size="5.2" dy="-3.2">5</tspan></text>
<clipPath id="c64"><rect x="433.4" y="552.8" width="75.8" height="75.5"/></clipPath>
<g clip-path="url(#c64)">
<path d="M438.3,628.3 L438.3,627.6 L439.8,623.2 L441.2,616.5 L442.7,609.8 L444.1,607.8 L445.3,602.1 L446.3,592.5 L447.3,582.8 L448.4,576.6 L449.2,582.8 L450.2,597.3 L451.1,611.7 L452.3,621.3 L454.2,627.1 L455,627.6 L455,628.3 Z" fill="#1f5a9e" fill-opacity="0.66" stroke="none"/>
<path d="M438.3,627.6 L439.8,623.2 L441.2,616.5 L442.7,609.8 L444.1,607.8 L445.3,602.1 L446.3,592.5 L447.3,582.8 L448.4,576.6 L449.2,582.8 L450.2,597.3 L451.1,611.7 L452.3,621.3 L454.2,627.1 L455,627.6" fill="none" stroke="#27477c" stroke-width="0.9" stroke-linejoin="round"/>
<path d="M438.8,628.3 L438.8,627.6 L441.2,623.2 L443.1,616.5 L444.8,605.9 L446,594.4 L447.3,584.8 L447.9,580 L448.6,579 L449.6,582.8 L450.5,594.4 L451.8,607.8 L453.2,618.4 L454.7,624.2 L456.6,626.6 L459,627.6 L459,628.3 Z" fill="#da584a" fill-opacity="0.72" stroke="none"/>
<path d="M438.8,627.6 L441.2,623.2 L443.1,616.5 L444.8,605.9 L446,594.4 L447.3,584.8 L447.9,580 L448.6,579 L449.6,582.8 L450.5,594.4 L451.8,607.8 L453.2,618.4 L454.7,624.2 L456.6,626.6 L459,627.6" fill="none" stroke="#b41838" stroke-width="0.9" stroke-linejoin="round"/>
</g>
<rect x="433.4" y="552.8" width="75.8" height="75.5" fill="none" stroke="#000" stroke-width="1.6"/>
<path d="M429,628.5H433.4M431,625.5H433.4M431,623.5H433.4M431,621.5H433.4M431,619.5H433.4M431,616.5H433.4M429,614.5H433.4M431,612.5H433.4M431,609.5H433.4M431,607.5H433.4M431,605.5H433.4M431,602.5H433.4M429,600.5H433.4M431,598.5H433.4M431,596.5H433.4M431,593.5H433.4M431,591.5H433.4M431,589.5H433.4M429,586.5H433.4M431,584.5H433.4M431,582.5H433.4M431,579.5H433.4M431,577.5H433.4M431,575.5H433.4M429,573.5H433.4M431,570.5H433.4M431,568.5H433.4M431,566.5H433.4M431,563.5H433.4M431,561.5H433.4M429,559.5H433.4M431,556.5H433.4M431,554.5H433.4" stroke="#1a1a1a" stroke-width="1" fill="none"/>
<text x="425.5" y="630.9" font-size="8.6" text-anchor="end" font-weight="normal" fill="#1e1e1e" textLength="4.2" lengthAdjust="spacingAndGlyphs" >0</text>
<text x="425.5" y="617.08" font-size="8.6" text-anchor="end" font-weight="normal" fill="#1e1e1e" textLength="8.4" lengthAdjust="spacingAndGlyphs" >20</text>
<text x="425.5" y="603.26" font-size="8.6" text-anchor="end" font-weight="normal" fill="#1e1e1e" textLength="8.4" lengthAdjust="spacingAndGlyphs" >40</text>
<text x="425.5" y="589.44" font-size="8.6" text-anchor="end" font-weight="normal" fill="#1e1e1e" textLength="8.4" lengthAdjust="spacingAndGlyphs" >60</text>
<text x="425.5" y="575.62" font-size="8.6" text-anchor="end" font-weight="normal" fill="#1e1e1e" textLength="8.4" lengthAdjust="spacingAndGlyphs" >80</text>
<text x="425.5" y="561.8" font-size="8.6" text-anchor="end" font-weight="normal" fill="#1e1e1e" textLength="12.6" lengthAdjust="spacingAndGlyphs" >100</text>
<path d="M437.5,628.3v3.6M449.5,628.3v3.6M462.5,628.3v3.6M482.5,628.3v3.6M499.5,628.3v3.6M448.5,628.3v2.8M450.5,628.3v2.8M451.5,628.3v2.8M468.5,628.3v2.0M471.5,628.3v2.0M474.5,628.3v2.0M476.5,628.3v2.0M477.5,628.3v2.0M479.5,628.3v2.0M480.5,628.3v2.0M481.5,628.3v2.0M487.5,628.3v2.0M490.5,628.3v2.0M492.5,628.3v2.0M494.5,628.3v2.0M495.5,628.3v2.0M497.5,628.3v2.0M498.5,628.3v2.0M498.5,628.3v2.0M505.5,628.3v2.0M508.5,628.3v2.0M440.5,628.3v2.0M443.5,628.3v2.0M446.5,628.3v2.0M448.5,628.3v2.0M453.5,628.3v2.0M455.5,628.3v2.0M458.5,628.3v2.0" stroke="#1a1a1a" stroke-width="1" fill="none"/>
<text x="438.1" y="646.1" font-size="8" text-anchor="middle" font-weight="normal" fill="#1e1e1e" >−10<tspan font-size="5.2" dy="-3.2">3</tspan></text>
<text x="451" y="646.1" font-size="8" text-anchor="middle" font-weight="normal" fill="#1e1e1e" >0</text>
<text x="462.23" y="646.1" font-size="8" text-anchor="middle" font-weight="normal" fill="#1e1e1e" >10<tspan font-size="5.2" dy="-3.2">3</tspan></text>
<text x="483.12" y="646.1" font-size="8" text-anchor="middle" font-weight="normal" fill="#1e1e1e" >10<tspan font-size="5.2" dy="-3.2">4</tspan></text>
<text x="500.7" y="646.1" font-size="8" text-anchor="middle" font-weight="normal" fill="#1e1e1e" >10<tspan font-size="5.2" dy="-3.2">5</tspan></text>
<clipPath id="c71"><rect x="110.5" y="659.4" width="73.7" height="75.5"/></clipPath>
<g clip-path="url(#c71)">
<path d="M116.3,734.9 L116.3,734.5 L117.7,727.3 L118.8,717.7 L119.8,710 L120.8,704.2 L121.7,701.3 L122.7,700.9 L123.7,702.3 L124.4,708.1 L125.2,717.7 L125.9,727.3 L126.8,734.5 L126.8,734.9 Z" fill="#1f5a9e" fill-opacity="0.66" stroke="none"/>
<path d="M116.3,734.5 L117.7,727.3 L118.8,717.7 L119.8,710 L120.8,704.2 L121.7,701.3 L122.7,700.9 L123.7,702.3 L124.4,708.1 L125.2,717.7 L125.9,727.3 L126.8,734.5" fill="none" stroke="#27477c" stroke-width="0.9" stroke-linejoin="round"/>
<path d="M117.2,734.9 L117.2,734.5 L118.8,727.3 L120.1,719.6 L121.3,711.9 L122.7,706.2 L123.9,702.3 L124.9,698.5 L125.9,697.7 L126.8,700.4 L127.5,708.1 L128.3,717.7 L129,725.4 L130.2,730.7 L132.1,733.1 L135,734.5 L138.8,734.5 L144.6,734.2 L147,733.6 L149.4,734.5 L149.4,734.9 Z" fill="#da584a" fill-opacity="0.72" stroke="none"/>
<path d="M117.2,734.5 L118.8,727.3 L120.1,719.6 L121.3,711.9 L122.7,706.2 L123.9,702.3 L124.9,698.5 L125.9,697.7 L126.8,700.4 L127.5,708.1 L128.3,717.7 L129,725.4 L130.2,730.7 L132.1,733.1 L135,734.5 L138.8,734.5 L144.6,734.2 L147,733.6 L149.4,734.5" fill="none" stroke="#b41838" stroke-width="0.9" stroke-linejoin="round"/>
</g>
<rect x="110.5" y="659.4" width="73.7" height="75.5" fill="none" stroke="#000" stroke-width="1.6"/>
<path d="M106.1,734.5H110.5M108.1,732.5H110.5M108.1,730.5H110.5M108.1,728.5H110.5M108.1,725.5H110.5M108.1,723.5H110.5M106.1,721.5H110.5M108.1,718.5H110.5M108.1,716.5H110.5M108.1,714.5H110.5M108.1,712.5H110.5M108.1,709.5H110.5M106.1,707.5H110.5M108.1,705.5H110.5M108.1,702.5H110.5M108.1,700.5H110.5M108.1,698.5H110.5M108.1,695.5H110.5M106.1,693.5H110.5M108.1,691.5H110.5M108.1,689.5H110.5M108.1,686.5H110.5M108.1,684.5H110.5M108.1,682.5H110.5M106.1,679.5H110.5M108.1,677.5H110.5M108.1,675.5H110.5M108.1,673.5H110.5M108.1,670.5H110.5M108.1,668.5H110.5M106.1,666.5H110.5M108.1,663.5H110.5M108.1,661.5H110.5" stroke="#1a1a1a" stroke-width="1" fill="none"/>
<text x="102.6" y="737.5" font-size="8.6" text-anchor="end" font-weight="normal" fill="#1e1e1e" textLength="4.2" lengthAdjust="spacingAndGlyphs" >0</text>
<text x="102.6" y="723.76" font-size="8.6" text-anchor="end" font-weight="normal" fill="#1e1e1e" textLength="8.4" lengthAdjust="spacingAndGlyphs" >20</text>
<text x="102.6" y="710.02" font-size="8.6" text-anchor="end" font-weight="normal" fill="#1e1e1e" textLength="8.4" lengthAdjust="spacingAndGlyphs" >40</text>
<text x="102.6" y="696.28" font-size="8.6" text-anchor="end" font-weight="normal" fill="#1e1e1e" textLength="8.4" lengthAdjust="spacingAndGlyphs" >60</text>
<text x="102.6" y="682.54" font-size="8.6" text-anchor="end" font-weight="normal" fill="#1e1e1e" textLength="8.4" lengthAdjust="spacingAndGlyphs" >80</text>
<text x="102.6" y="668.8" font-size="8.6" text-anchor="end" font-weight="normal" fill="#1e1e1e" textLength="12.6" lengthAdjust="spacingAndGlyphs" >100</text>
<path d="M114.5,734.9v3.6M126.5,734.9v3.6M138.5,734.9v3.6M157.5,734.9v3.6M175.5,734.9v3.6M125.5,734.9v2.8M127.5,734.9v2.8M128.5,734.9v2.8M144.5,734.9v2.0M147.5,734.9v2.0M150.5,734.9v2.0M152.5,734.9v2.0M153.5,734.9v2.0M154.5,734.9v2.0M156.5,734.9v2.0M157.5,734.9v2.0M163.5,734.9v2.0M166.5,734.9v2.0M168.5,734.9v2.0M169.5,734.9v2.0M171.5,734.9v2.0M172.5,734.9v2.0M173.5,734.9v2.0M174.5,734.9v2.0M180.5,734.9v2.0M183.5,734.9v2.0M117.5,734.9v2.0M120.5,734.9v2.0M123.5,734.9v2.0M124.5,734.9v2.0M129.5,734.9v2.0M132.5,734.9v2.0M134.5,734.9v2.0" stroke="#1a1a1a" stroke-width="1" fill="none"/>
<text x="115.07" y="752.7" font-size="8" text-anchor="middle" font-weight="normal" fill="#1e1e1e" >−10<tspan font-size="5.2" dy="-3.2">3</tspan></text>
<text x="127.65" y="752.7" font-size="8" text-anchor="middle" font-weight="normal" fill="#1e1e1e" >0</text>
<text x="138.53" y="752.7" font-size="8" text-anchor="middle" font-weight="normal" fill="#1e1e1e" >10<tspan font-size="5.2" dy="-3.2">3</tspan></text>
<text x="158.86" y="752.7" font-size="8" text-anchor="middle" font-weight="normal" fill="#1e1e1e" >10<tspan font-size="5.2" dy="-3.2">4</tspan></text>
<text x="175.96" y="752.7" font-size="8" text-anchor="middle" font-weight="normal" fill="#1e1e1e" >10<tspan font-size="5.2" dy="-3.2">5</tspan></text>
<text transform="translate(82.4,696.5) rotate(-90)" x="0" y="0" font-size="10.6" text-anchor="middle" fill="#1e1e1e" textLength="77.4" lengthAdjust="spacingAndGlyphs">Normalized to mode</text>
<clipPath id="c72"><rect x="213.9" y="660" width="78.9" height="74.5"/></clipPath>
<g clip-path="url(#c72)">
<path d="M220.9,734.5 L220.9,734.2 L222.1,731.8 L224.1,725.2 L226,717.1 L227.2,708.9 L228.2,696.7 L229.2,680.3 L229.9,675 L230.7,673 L231.6,675 L232.4,680.3 L233,696.7 L233.8,708.9 L235,718 L236.5,726 L238.5,731 L241,734 L241,734.5 Z" fill="#1f5a9e" fill-opacity="0.66" stroke="none"/>
<path d="M220.9,734.2 L222.1,731.8 L224.1,725.2 L226,717.1 L227.2,708.9 L228.2,696.7 L229.2,680.3 L229.9,675 L230.7,673 L231.6,675 L232.4,680.3 L233,696.7 L233.8,708.9 L235,718 L236.5,726 L238.5,731 L241,734" fill="none" stroke="#27477c" stroke-width="0.9" stroke-linejoin="round"/>
<path d="M220.9,734.5 L220.9,734.2 L222.1,731.8 L224.1,725.2 L226.2,717.1 L227.4,708.9 L228.4,696.7 L229.4,680.3 L230.1,675 L230.9,673 L231.8,675 L232.7,680.3 L233.3,696.7 L234.3,708.9 L235.6,714.6 L237.2,717.9 L238.4,720.3 L240,724.4 L243.3,728.5 L246.6,731.8 L250.7,734.2 L250.7,734.5 Z" fill="#da584a" fill-opacity="0.72" stroke="none"/>
<path d="M220.9,734.2 L222.1,731.8 L224.1,725.2 L226.2,717.1 L227.4,708.9 L228.4,696.7 L229.4,680.3 L230.1,675 L230.9,673 L231.8,675 L232.7,680.3 L233.3,696.7 L234.3,708.9 L235.6,714.6 L237.2,717.9 L238.4,720.3 L240,724.4 L243.3,728.5 L246.6,731.8 L250.7,734.2" fill="none" stroke="#b41838" stroke-width="0.9" stroke-linejoin="round"/>
</g>
<rect x="213.9" y="660" width="78.9" height="74.5" fill="none" stroke="#000" stroke-width="1.6"/>
<path d="M209.5,734.5H213.9M211.5,732.5H213.9M211.5,729.5H213.9M211.5,727.5H213.9M211.5,725.5H213.9M211.5,722.5H213.9M209.5,720.5H213.9M211.5,718.5H213.9M211.5,715.5H213.9M211.5,713.5H213.9M211.5,711.5H213.9M211.5,708.5H213.9M209.5,706.5H213.9M211.5,704.5H213.9M211.5,701.5H213.9M211.5,699.5H213.9M211.5,697.5H213.9M211.5,694.5H213.9M209.5,692.5H213.9M211.5,690.5H213.9M211.5,687.5H213.9M211.5,685.5H213.9M211.5,683.5H213.9M211.5,680.5H213.9M209.5,678.5H213.9M211.5,676.5H213.9M211.5,673.5H213.9M211.5,671.5H213.9M211.5,669.5H213.9M211.5,666.5H213.9M209.5,664.5H213.9M211.5,662.5H213.9" stroke="#1a1a1a" stroke-width="1" fill="none"/>
<text x="206" y="737.1" font-size="8.6" text-anchor="end" font-weight="normal" fill="#1e1e1e" textLength="4.2" lengthAdjust="spacingAndGlyphs" >0</text>
<text x="206" y="723.12" font-size="8.6" text-anchor="end" font-weight="normal" fill="#1e1e1e" textLength="8.4" lengthAdjust="spacingAndGlyphs" >20</text>
<text x="206" y="709.14" font-size="8.6" text-anchor="end" font-weight="normal" fill="#1e1e1e" textLength="8.4" lengthAdjust="spacingAndGlyphs" >40</text>
<text x="206" y="695.16" font-size="8.6" text-anchor="end" font-weight="normal" fill="#1e1e1e" textLength="8.4" lengthAdjust="spacingAndGlyphs" >60</text>
<text x="206" y="681.18" font-size="8.6" text-anchor="end" font-weight="normal" fill="#1e1e1e" textLength="8.4" lengthAdjust="spacingAndGlyphs" >80</text>
<text x="206" y="667.2" font-size="8.6" text-anchor="end" font-weight="normal" fill="#1e1e1e" textLength="12.6" lengthAdjust="spacingAndGlyphs" >100</text>
<path d="M218.5,734.5v3.6M230.5,734.5v3.6M243.5,734.5v3.6M264.5,734.5v3.6M283.5,734.5v3.6M229.5,734.5v2.8M231.5,734.5v2.8M232.5,734.5v2.8M250.5,734.5v2.0M253.5,734.5v2.0M256.5,734.5v2.0M258.5,734.5v2.0M260.5,734.5v2.0M261.5,734.5v2.0M262.5,734.5v2.0M263.5,734.5v2.0M270.5,734.5v2.0M273.5,734.5v2.0M275.5,734.5v2.0M277.5,734.5v2.0M278.5,734.5v2.0M280.5,734.5v2.0M281.5,734.5v2.0M282.5,734.5v2.0M288.5,734.5v2.0M291.5,734.5v2.0M221.5,734.5v2.0M224.5,734.5v2.0M227.5,734.5v2.0M229.5,734.5v2.0M234.5,734.5v2.0M237.5,734.5v2.0M239.5,734.5v2.0" stroke="#1a1a1a" stroke-width="1" fill="none"/>
<text x="218.78" y="752.3" font-size="8" text-anchor="middle" font-weight="normal" fill="#1e1e1e" >−10<tspan font-size="5.2" dy="-3.2">3</tspan></text>
<text x="232.16" y="752.3" font-size="8" text-anchor="middle" font-weight="normal" fill="#1e1e1e" >0</text>
<text x="243.9" y="752.3" font-size="8" text-anchor="middle" font-weight="normal" fill="#1e1e1e" >10<tspan font-size="5.2" dy="-3.2">3</tspan></text>
<text x="265.61" y="752.3" font-size="8" text-anchor="middle" font-weight="normal" fill="#1e1e1e" >10<tspan font-size="5.2" dy="-3.2">4</tspan></text>
<text x="283.92" y="752.3" font-size="8" text-anchor="middle" font-weight="normal" fill="#1e1e1e" >10<tspan font-size="5.2" dy="-3.2">5</tspan></text>
<clipPath id="c73"><rect x="328.5" y="659.6" width="73.8" height="75.5"/></clipPath>
<g clip-path="url(#c73)">
<path d="M328.7,735.1 L328.7,734.6 L328.7,725.5 L329.5,726.2 L331.1,727.7 L332.2,726.2 L333.4,723.1 L334.5,721.5 L335.7,720.8 L336.8,718.5 L337.6,716.5 L338.4,716.2 L339.2,718.5 L339.9,723.8 L340.7,728.5 L341.8,730 L343,728.5 L343.8,720.8 L344.5,711.5 L345.3,703.8 L346.1,701.4 L347.2,701.4 L348.2,705.4 L348.9,713.1 L349.9,722.3 L351.1,729.2 L352.6,731.5 L354.5,733.5 L356.5,734.6 L356.5,735.1 Z" fill="#da584a" fill-opacity="0.72" stroke="none"/>
<path d="M328.7,734.6 L328.7,725.5 L329.5,726.2 L331.1,727.7 L332.2,726.2 L333.4,723.1 L334.5,721.5 L335.7,720.8 L336.8,718.5 L337.6,716.5 L338.4,716.2 L339.2,718.5 L339.9,723.8 L340.7,728.5 L341.8,730 L343,728.5 L343.8,720.8 L344.5,711.5 L345.3,703.8 L346.1,701.4 L347.2,701.4 L348.2,705.4 L348.9,713.1 L349.9,722.3 L351.1,729.2 L352.6,731.5 L354.5,733.5 L356.5,734.6" fill="none" stroke="#b41838" stroke-width="0.9" stroke-linejoin="round"/>
<path d="M343.4,735.1 L343.4,734.6 L344,724.6 L344.5,713.1 L345.3,703.8 L346.1,701.2 L347.6,701.2 L348.4,705.4 L349.2,713.1 L350.3,722.3 L351.5,729.2 L352.6,733.1 L354.2,734.6 L354.2,735.1 Z" fill="#1f5a9e" fill-opacity="0.45" stroke="none"/>
<path d="M343.4,734.6 L344,724.6 L344.5,713.1 L345.3,703.8 L346.1,701.2 L347.6,701.2 L348.4,705.4 L349.2,713.1 L350.3,722.3 L351.5,729.2 L352.6,733.1 L354.2,734.6" fill="none" stroke="#27477c" stroke-width="0.9" stroke-linejoin="round"/>
</g>
<rect x="328.5" y="659.6" width="73.8" height="75.5" fill="none" stroke="#000" stroke-width="1.6"/>
<path d="M324.1,735.5H328.5M326.1,732.5H328.5M326.1,730.5H328.5M326.1,728.5H328.5M326.1,725.5H328.5M326.1,723.5H328.5M324.1,721.5H328.5M326.1,718.5H328.5M326.1,716.5H328.5M326.1,714.5H328.5M326.1,711.5H328.5M326.1,709.5H328.5M324.1,707.5H328.5M326.1,704.5H328.5M326.1,702.5H328.5M326.1,700.5H328.5M326.1,697.5H328.5M326.1,695.5H328.5M324.1,693.5H328.5M326.1,690.5H328.5M326.1,688.5H328.5M326.1,686.5H328.5M326.1,683.5H328.5M326.1,681.5H328.5M324.1,679.5H328.5M326.1,676.5H328.5M326.1,674.5H328.5M326.1,672.5H328.5M326.1,669.5H328.5M326.1,667.5H328.5M324.1,665.5H328.5M326.1,662.5H328.5" stroke="#1a1a1a" stroke-width="1" fill="none"/>
<text x="320.6" y="737.7" font-size="8.6" text-anchor="end" font-weight="normal" fill="#1e1e1e" textLength="4.2" lengthAdjust="spacingAndGlyphs" >0</text>
<text x="320.6" y="723.7" font-size="8.6" text-anchor="end" font-weight="normal" fill="#1e1e1e" textLength="8.4" lengthAdjust="spacingAndGlyphs" >20</text>
<text x="320.6" y="709.7" font-size="8.6" text-anchor="end" font-weight="normal" fill="#1e1e1e" textLength="8.4" lengthAdjust="spacingAndGlyphs" >40</text>
<text x="320.6" y="695.7" font-size="8.6" text-anchor="end" font-weight="normal" fill="#1e1e1e" textLength="8.4" lengthAdjust="spacingAndGlyphs" >60</text>
<text x="320.6" y="681.7" font-size="8.6" text-anchor="end" font-weight="normal" fill="#1e1e1e" textLength="8.4" lengthAdjust="spacingAndGlyphs" >80</text>
<text x="320.6" y="667.7" font-size="8.6" text-anchor="end" font-weight="normal" fill="#1e1e1e" textLength="12.6" lengthAdjust="spacingAndGlyphs" >100</text>
<path d="M332.5,735.1v3.6M344.5,735.1v3.6M356.5,735.1v3.6M376.5,735.1v3.6M393.5,735.1v3.6M343.5,735.1v2.8M345.5,735.1v2.8M346.5,735.1v2.8M362.5,735.1v2.0M365.5,735.1v2.0M368.5,735.1v2.0M370.5,735.1v2.0M371.5,735.1v2.0M372.5,735.1v2.0M374.5,735.1v2.0M375.5,735.1v2.0M381.5,735.1v2.0M384.5,735.1v2.0M386.5,735.1v2.0M387.5,735.1v2.0M389.5,735.1v2.0M390.5,735.1v2.0M391.5,735.1v2.0M392.5,735.1v2.0M398.5,735.1v2.0M401.5,735.1v2.0M335.5,735.1v2.0M338.5,735.1v2.0M341.5,735.1v2.0M342.5,735.1v2.0M347.5,735.1v2.0M350.5,735.1v2.0M352.5,735.1v2.0" stroke="#1a1a1a" stroke-width="1" fill="none"/>
<text x="333.08" y="752.9" font-size="8" text-anchor="middle" font-weight="normal" fill="#1e1e1e" >−10<tspan font-size="5.2" dy="-3.2">3</tspan></text>
<text x="345.67" y="752.9" font-size="8" text-anchor="middle" font-weight="normal" fill="#1e1e1e" >0</text>
<text x="356.57" y="752.9" font-size="8" text-anchor="middle" font-weight="normal" fill="#1e1e1e" >10<tspan font-size="5.2" dy="-3.2">3</tspan></text>
<text x="376.93" y="752.9" font-size="8" text-anchor="middle" font-weight="normal" fill="#1e1e1e" >10<tspan font-size="5.2" dy="-3.2">4</tspan></text>
<text x="394.05" y="752.9" font-size="8" text-anchor="middle" font-weight="normal" fill="#1e1e1e" >10<tspan font-size="5.2" dy="-3.2">5</tspan></text>
<clipPath id="c81"><rect x="110.5" y="761.2" width="73.4" height="75.5"/></clipPath>
<g clip-path="url(#c81)">
<path d="M123.6,836.7 L123.6,836.7 L124.4,827.7 L125.2,816.1 L126.1,805.8 L126.7,804 L127.5,809.2 L128.2,821.9 L129,831.1 L129.8,832.9 L130.8,834.6 L131.9,836.7 L140.6,836.7 L142.3,834.6 L143.4,834 L144.8,835.2 L146.9,836.7 L146.9,836.7 Z" fill="#da584a" fill-opacity="0.72" stroke="none"/>
<path d="M123.6,836.7 L124.4,827.7 L125.2,816.1 L126.1,805.8 L126.7,804 L127.5,809.2 L128.2,821.9 L129,831.1 L129.8,832.9 L130.8,834.6 L131.9,836.7 L140.6,836.7 L142.3,834.6 L143.4,834 L144.8,835.2 L146.9,836.7" fill="none" stroke="#b41838" stroke-width="0.9" stroke-linejoin="round"/>
<path d="M123.6,836.7 L123.6,836.7 L124.6,825.4 L125.8,813.8 L126.7,811.5 L127.5,816.1 L128.5,827.7 L129.4,834.6 L130.5,836.7 L130.5,836.7 Z" fill="#1f5a9e" fill-opacity="0.45" stroke="none"/>
<path d="M123.6,836.7 L124.6,825.4 L125.8,813.8 L126.7,811.5 L127.5,816.1 L128.5,827.7 L129.4,834.6 L130.5,836.7" fill="none" stroke="#27477c" stroke-width="0.9" stroke-linejoin="round"/>
</g>
<rect x="110.5" y="761.2" width="73.4" height="75.5" fill="none" stroke="#000" stroke-width="1.6"/>
<path d="M106.1,836.5H110.5M108.1,834.5H110.5M108.1,832.5H110.5M108.1,829.5H110.5M108.1,827.5H110.5M108.1,825.5H110.5M106.1,822.5H110.5M108.1,820.5H110.5M108.1,818.5H110.5M108.1,816.5H110.5M108.1,813.5H110.5M108.1,811.5H110.5M106.1,809.5H110.5M108.1,806.5H110.5M108.1,804.5H110.5M108.1,802.5H110.5M108.1,800.5H110.5M108.1,797.5H110.5M106.1,795.5H110.5M108.1,793.5H110.5M108.1,790.5H110.5M108.1,788.5H110.5M108.1,786.5H110.5M108.1,783.5H110.5M106.1,781.5H110.5M108.1,779.5H110.5M108.1,777.5H110.5M108.1,774.5H110.5M108.1,772.5H110.5M108.1,770.5H110.5M106.1,767.5H110.5M108.1,765.5H110.5M108.1,763.5H110.5" stroke="#1a1a1a" stroke-width="1" fill="none"/>
<text x="102.6" y="839.3" font-size="8.6" text-anchor="end" font-weight="normal" fill="#1e1e1e" textLength="4.2" lengthAdjust="spacingAndGlyphs" >0</text>
<text x="102.6" y="825.54" font-size="8.6" text-anchor="end" font-weight="normal" fill="#1e1e1e" textLength="8.4" lengthAdjust="spacingAndGlyphs" >20</text>
<text x="102.6" y="811.78" font-size="8.6" text-anchor="end" font-weight="normal" fill="#1e1e1e" textLength="8.4" lengthAdjust="spacingAndGlyphs" >40</text>
<text x="102.6" y="798.02" font-size="8.6" text-anchor="end" font-weight="normal" fill="#1e1e1e" textLength="8.4" lengthAdjust="spacingAndGlyphs" >60</text>
<text x="102.6" y="784.26" font-size="8.6" text-anchor="end" font-weight="normal" fill="#1e1e1e" textLength="8.4" lengthAdjust="spacingAndGlyphs" >80</text>
<text x="102.6" y="770.5" font-size="8.6" text-anchor="end" font-weight="normal" fill="#1e1e1e" textLength="12.6" lengthAdjust="spacingAndGlyphs" >100</text>
<path d="M114.5,836.7v3.6M126.5,836.7v3.6M138.5,836.7v3.6M157.5,836.7v3.6M174.5,836.7v3.6M125.5,836.7v2.8M127.5,836.7v2.8M128.5,836.7v2.8M144.5,836.7v2.0M147.5,836.7v2.0M150.5,836.7v2.0M151.5,836.7v2.0M153.5,836.7v2.0M154.5,836.7v2.0M155.5,836.7v2.0M156.5,836.7v2.0M162.5,836.7v2.0M165.5,836.7v2.0M168.5,836.7v2.0M169.5,836.7v2.0M171.5,836.7v2.0M172.5,836.7v2.0M173.5,836.7v2.0M174.5,836.7v2.0M179.5,836.7v2.0M182.5,836.7v2.0M117.5,836.7v2.0M120.5,836.7v2.0M123.5,836.7v2.0M124.5,836.7v2.0M129.5,836.7v2.0M132.5,836.7v2.0M134.5,836.7v2.0" stroke="#1a1a1a" stroke-width="1" fill="none"/>
<text x="115.06" y="854.5" font-size="8" text-anchor="middle" font-weight="normal" fill="#1e1e1e" >−10<tspan font-size="5.2" dy="-3.2">3</tspan></text>
<text x="127.58" y="854.5" font-size="8" text-anchor="middle" font-weight="normal" fill="#1e1e1e" >0</text>
<text x="138.42" y="854.5" font-size="8" text-anchor="middle" font-weight="normal" fill="#1e1e1e" >10<tspan font-size="5.2" dy="-3.2">3</tspan></text>
<text x="158.67" y="854.5" font-size="8" text-anchor="middle" font-weight="normal" fill="#1e1e1e" >10<tspan font-size="5.2" dy="-3.2">4</tspan></text>
<text x="175.7" y="854.5" font-size="8" text-anchor="middle" font-weight="normal" fill="#1e1e1e" >10<tspan font-size="5.2" dy="-3.2">5</tspan></text>
<text transform="translate(82.4,798) rotate(-90)" x="0" y="0" font-size="10.6" text-anchor="middle" fill="#1e1e1e" textLength="77.4" lengthAdjust="spacingAndGlyphs">Normalized to mode</text>
<clipPath id="c82"><rect x="218" y="760.9" width="74.3" height="75.8"/></clipPath>
<g clip-path="url(#c82)">
<path d="M225.7,836.7 L225.7,836.3 L226.6,831.5 L227.6,822.9 L228.5,810.4 L229.3,798.8 L230.3,792.1 L231.4,789.2 L232.4,782.5 L233.2,778.2 L233.5,777.5 L234.3,779.6 L234.8,787.3 L235.5,798.8 L236.2,813.3 L237.2,825.8 L238.6,832.5 L241,835.4 L243.9,836.3 L243.9,836.7 Z" fill="#1f5a9e" fill-opacity="0.66" stroke="none"/>
<path d="M225.7,836.3 L226.6,831.5 L227.6,822.9 L228.5,810.4 L229.3,798.8 L230.3,792.1 L231.4,789.2 L232.4,782.5 L233.2,778.2 L233.5,777.5 L234.3,779.6 L234.8,787.3 L235.5,798.8 L236.2,813.3 L237.2,825.8 L238.6,832.5 L241,835.4 L243.9,836.3" fill="none" stroke="#27477c" stroke-width="0.9" stroke-linejoin="round"/>
<path d="M226.1,836.7 L226.1,836.3 L227.4,829.6 L228.5,818.1 L229.7,803.7 L230.9,793.1 L232.2,789.7 L233.3,788.3 L234.5,787.3 L235.3,789.2 L236,798.8 L236.7,810.4 L237.7,823.8 L239.1,831.5 L241,833.9 L243.4,835.4 L245.8,836.3 L245.8,836.7 Z" fill="#da584a" fill-opacity="0.72" stroke="none"/>
<path d="M226.1,836.3 L227.4,829.6 L228.5,818.1 L229.7,803.7 L230.9,793.1 L232.2,789.7 L233.3,788.3 L234.5,787.3 L235.3,789.2 L236,798.8 L236.7,810.4 L237.7,823.8 L239.1,831.5 L241,833.9 L243.4,835.4 L245.8,836.3" fill="none" stroke="#b41838" stroke-width="0.9" stroke-linejoin="round"/>
</g>
<rect x="218" y="760.9" width="74.3" height="75.8" fill="none" stroke="#000" stroke-width="1.6"/>
<path d="M213.6,836.5H218M215.6,834.5H218M215.6,832.5H218M215.6,829.5H218M215.6,827.5H218M215.6,825.5H218M213.6,822.5H218M215.6,820.5H218M215.6,818.5H218M215.6,816.5H218M215.6,813.5H218M215.6,811.5H218M213.6,809.5H218M215.6,806.5H218M215.6,804.5H218M215.6,802.5H218M215.6,800.5H218M215.6,797.5H218M213.6,795.5H218M215.6,793.5H218M215.6,790.5H218M215.6,788.5H218M215.6,786.5H218M215.6,784.5H218M213.6,781.5H218M215.6,779.5H218M215.6,777.5H218M215.6,774.5H218M215.6,772.5H218M215.6,770.5H218M213.6,768.5H218M215.6,765.5H218M215.6,763.5H218" stroke="#1a1a1a" stroke-width="1" fill="none"/>
<text x="210.1" y="839.3" font-size="8.6" text-anchor="end" font-weight="normal" fill="#1e1e1e" textLength="4.2" lengthAdjust="spacingAndGlyphs" >0</text>
<text x="210.1" y="825.58" font-size="8.6" text-anchor="end" font-weight="normal" fill="#1e1e1e" textLength="8.4" lengthAdjust="spacingAndGlyphs" >20</text>
<text x="210.1" y="811.86" font-size="8.6" text-anchor="end" font-weight="normal" fill="#1e1e1e" textLength="8.4" lengthAdjust="spacingAndGlyphs" >40</text>
<text x="210.1" y="798.14" font-size="8.6" text-anchor="end" font-weight="normal" fill="#1e1e1e" textLength="8.4" lengthAdjust="spacingAndGlyphs" >60</text>
<text x="210.1" y="784.42" font-size="8.6" text-anchor="end" font-weight="normal" fill="#1e1e1e" textLength="8.4" lengthAdjust="spacingAndGlyphs" >80</text>
<text x="210.1" y="770.7" font-size="8.6" text-anchor="end" font-weight="normal" fill="#1e1e1e" textLength="12.6" lengthAdjust="spacingAndGlyphs" >100</text>
<path d="M222.5,836.7v3.6M233.5,836.7v3.6M246.5,836.7v3.6M265.5,836.7v3.6M283.5,836.7v3.6M232.5,836.7v2.8M234.5,836.7v2.8M235.5,836.7v2.8M252.5,836.7v2.0M255.5,836.7v2.0M258.5,836.7v2.0M259.5,836.7v2.0M261.5,836.7v2.0M262.5,836.7v2.0M263.5,836.7v2.0M264.5,836.7v2.0M271.5,836.7v2.0M274.5,836.7v2.0M276.5,836.7v2.0M277.5,836.7v2.0M279.5,836.7v2.0M280.5,836.7v2.0M281.5,836.7v2.0M282.5,836.7v2.0M288.5,836.7v2.0M291.5,836.7v2.0M225.5,836.7v2.0M228.5,836.7v2.0M230.5,836.7v2.0M232.5,836.7v2.0M237.5,836.7v2.0M240.5,836.7v2.0M242.5,836.7v2.0" stroke="#1a1a1a" stroke-width="1" fill="none"/>
<text x="222.61" y="854.5" font-size="8" text-anchor="middle" font-weight="normal" fill="#1e1e1e" >−10<tspan font-size="5.2" dy="-3.2">3</tspan></text>
<text x="235.27" y="854.5" font-size="8" text-anchor="middle" font-weight="normal" fill="#1e1e1e" >0</text>
<text x="246.26" y="854.5" font-size="8" text-anchor="middle" font-weight="normal" fill="#1e1e1e" >10<tspan font-size="5.2" dy="-3.2">3</tspan></text>
<text x="266.75" y="854.5" font-size="8" text-anchor="middle" font-weight="normal" fill="#1e1e1e" >10<tspan font-size="5.2" dy="-3.2">4</tspan></text>
<text x="283.99" y="854.5" font-size="8" text-anchor="middle" font-weight="normal" fill="#1e1e1e" >10<tspan font-size="5.2" dy="-3.2">5</tspan></text>
<clipPath id="c83"><rect x="324.9" y="760.7" width="77.8" height="76"/></clipPath>
<g clip-path="url(#c83)">
<path d="M338.6,836.7 L338.6,836.7 L339.8,825.4 L340.9,810.4 L342.1,804.6 L343.2,808.1 L344.4,819.6 L345.2,831.1 L346.3,833.4 L348.1,833.2 L349.8,833.4 L352.1,834.6 L354.4,835.7 L356.7,835.2 L359,833.4 L360.8,832.3 L361.9,833.2 L363.6,834.6 L365.4,834.4 L367.1,835.2 L368.8,836 L371.1,836.7 L371.1,836.7 Z" fill="#da584a" fill-opacity="0.72" stroke="none"/>
<path d="M338.6,836.7 L339.8,825.4 L340.9,810.4 L342.1,804.6 L343.2,808.1 L344.4,819.6 L345.2,831.1 L346.3,833.4 L348.1,833.2 L349.8,833.4 L352.1,834.6 L354.4,835.7 L356.7,835.2 L359,833.4 L360.8,832.3 L361.9,833.2 L363.6,834.6 L365.4,834.4 L367.1,835.2 L368.8,836 L371.1,836.7" fill="none" stroke="#b41838" stroke-width="0.9" stroke-linejoin="round"/>
<path d="M338.3,836.7 L338.3,836.7 L339.4,825.4 L340.3,813.8 L341.1,805.8 L342,803.4 L342.9,806.9 L343.7,816.1 L344.6,827.7 L345.5,834.6 L346.9,836.7 L346.9,836.7 Z" fill="#1f5a9e" fill-opacity="0.45" stroke="none"/>
<path d="M338.3,836.7 L339.4,825.4 L340.3,813.8 L341.1,805.8 L342,803.4 L342.9,806.9 L343.7,816.1 L344.6,827.7 L345.5,834.6 L346.9,836.7" fill="none" stroke="#27477c" stroke-width="0.9" stroke-linejoin="round"/>
</g>
<rect x="324.9" y="760.7" width="77.8" height="76" fill="none" stroke="#000" stroke-width="1.6"/>
<path d="M320.5,836.5H324.9M322.5,834.5H324.9M322.5,832.5H324.9M322.5,829.5H324.9M322.5,827.5H324.9M322.5,825.5H324.9M320.5,822.5H324.9M322.5,820.5H324.9M322.5,818.5H324.9M322.5,816.5H324.9M322.5,813.5H324.9M322.5,811.5H324.9M320.5,809.5H324.9M322.5,806.5H324.9M322.5,804.5H324.9M322.5,802.5H324.9M322.5,799.5H324.9M322.5,797.5H324.9M320.5,795.5H324.9M322.5,793.5H324.9M322.5,790.5H324.9M322.5,788.5H324.9M322.5,786.5H324.9M322.5,783.5H324.9M320.5,781.5H324.9M322.5,779.5H324.9M322.5,776.5H324.9M322.5,774.5H324.9M322.5,772.5H324.9M322.5,770.5H324.9M320.5,767.5H324.9M322.5,765.5H324.9M322.5,763.5H324.9" stroke="#1a1a1a" stroke-width="1" fill="none"/>
<text x="317" y="839.3" font-size="8.6" text-anchor="end" font-weight="normal" fill="#1e1e1e" textLength="4.2" lengthAdjust="spacingAndGlyphs" >0</text>
<text x="317" y="825.5" font-size="8.6" text-anchor="end" font-weight="normal" fill="#1e1e1e" textLength="8.4" lengthAdjust="spacingAndGlyphs" >20</text>
<text x="317" y="811.7" font-size="8.6" text-anchor="end" font-weight="normal" fill="#1e1e1e" textLength="8.4" lengthAdjust="spacingAndGlyphs" >40</text>
<text x="317" y="797.9" font-size="8.6" text-anchor="end" font-weight="normal" fill="#1e1e1e" textLength="8.4" lengthAdjust="spacingAndGlyphs" >60</text>
<text x="317" y="784.1" font-size="8.6" text-anchor="end" font-weight="normal" fill="#1e1e1e" textLength="8.4" lengthAdjust="spacingAndGlyphs" >80</text>
<text x="317" y="770.3" font-size="8.6" text-anchor="end" font-weight="normal" fill="#1e1e1e" textLength="12.6" lengthAdjust="spacingAndGlyphs" >100</text>
<path d="M329.5,836.7v3.6M341.5,836.7v3.6M354.5,836.7v3.6M375.5,836.7v3.6M393.5,836.7v3.6M340.5,836.7v2.8M342.5,836.7v2.8M343.5,836.7v2.8M360.5,836.7v2.0M364.5,836.7v2.0M366.5,836.7v2.0M368.5,836.7v2.0M370.5,836.7v2.0M371.5,836.7v2.0M373.5,836.7v2.0M374.5,836.7v2.0M380.5,836.7v2.0M383.5,836.7v2.0M385.5,836.7v2.0M387.5,836.7v2.0M389.5,836.7v2.0M390.5,836.7v2.0M391.5,836.7v2.0M392.5,836.7v2.0M398.5,836.7v2.0M401.5,836.7v2.0M332.5,836.7v2.0M335.5,836.7v2.0M338.5,836.7v2.0M339.5,836.7v2.0M345.5,836.7v2.0M348.5,836.7v2.0M350.5,836.7v2.0" stroke="#1a1a1a" stroke-width="1" fill="none"/>
<text x="329.71" y="854.5" font-size="8" text-anchor="middle" font-weight="normal" fill="#1e1e1e" >−10<tspan font-size="5.2" dy="-3.2">3</tspan></text>
<text x="342.93" y="854.5" font-size="8" text-anchor="middle" font-weight="normal" fill="#1e1e1e" >0</text>
<text x="354.49" y="854.5" font-size="8" text-anchor="middle" font-weight="normal" fill="#1e1e1e" >10<tspan font-size="5.2" dy="-3.2">3</tspan></text>
<text x="375.9" y="854.5" font-size="8" text-anchor="middle" font-weight="normal" fill="#1e1e1e" >10<tspan font-size="5.2" dy="-3.2">4</tspan></text>
<text x="393.95" y="854.5" font-size="8" text-anchor="middle" font-weight="normal" fill="#1e1e1e" >10<tspan font-size="5.2" dy="-3.2">5</tspan></text>
<clipPath id="c84"><rect x="435.2" y="760.7" width="76.1" height="76"/></clipPath>
<g clip-path="url(#c84)">
<path d="M448.5,836.7 L448.5,836.3 L449.4,827.7 L450.4,816.2 L451.2,806.5 L451.8,804.1 L452.5,806.5 L453.3,816.2 L454,827.7 L455,832.5 L456,833.5 L456.9,835.4 L458.1,836.3 L465.3,836.3 L466.7,834.9 L468.7,833.9 L470.6,834.9 L472.5,836.3 L472.5,836.7 Z" fill="#da584a" fill-opacity="0.72" stroke="none"/>
<path d="M448.5,836.3 L449.4,827.7 L450.4,816.2 L451.2,806.5 L451.8,804.1 L452.5,806.5 L453.3,816.2 L454,827.7 L455,832.5 L456,833.5 L456.9,835.4 L458.1,836.3 L465.3,836.3 L466.7,834.9 L468.7,833.9 L470.6,834.9 L472.5,836.3" fill="none" stroke="#b41838" stroke-width="0.9" stroke-linejoin="round"/>
<path d="M448.5,836.7 L448.5,836.3 L449.6,825.8 L450.6,816.2 L451.3,812.3 L452.1,811.3 L452.9,818.1 L453.8,829.6 L455.2,836.3 L455.2,836.7 Z" fill="#1f5a9e" fill-opacity="0.45" stroke="none"/>
<path d="M448.5,836.3 L449.6,825.8 L450.6,816.2 L451.3,812.3 L452.1,811.3 L452.9,818.1 L453.8,829.6 L455.2,836.3" fill="none" stroke="#27477c" stroke-width="0.9" stroke-linejoin="round"/>
</g>
<rect x="435.2" y="760.7" width="76.1" height="76" fill="none" stroke="#000" stroke-width="1.6"/>
<path d="M430.8,836.5H435.2M432.8,834.5H435.2M432.8,832.5H435.2M432.8,829.5H435.2M432.8,827.5H435.2M432.8,825.5H435.2M430.8,823.5H435.2M432.8,820.5H435.2M432.8,818.5H435.2M432.8,816.5H435.2M432.8,814.5H435.2M432.8,811.5H435.2M430.8,809.5H435.2M432.8,807.5H435.2M432.8,805.5H435.2M432.8,802.5H435.2M432.8,800.5H435.2M432.8,798.5H435.2M430.8,796.5H435.2M432.8,793.5H435.2M432.8,791.5H435.2M432.8,789.5H435.2M432.8,786.5H435.2M432.8,784.5H435.2M430.8,782.5H435.2M432.8,780.5H435.2M432.8,777.5H435.2M432.8,775.5H435.2M432.8,773.5H435.2M432.8,771.5H435.2M430.8,768.5H435.2M432.8,766.5H435.2M432.8,764.5H435.2M432.8,762.5H435.2" stroke="#1a1a1a" stroke-width="1" fill="none"/>
<text x="427.3" y="839.3" font-size="8.6" text-anchor="end" font-weight="normal" fill="#1e1e1e" textLength="4.2" lengthAdjust="spacingAndGlyphs" >0</text>
<text x="427.3" y="825.74" font-size="8.6" text-anchor="end" font-weight="normal" fill="#1e1e1e" textLength="8.4" lengthAdjust="spacingAndGlyphs" >20</text>
<text x="427.3" y="812.18" font-size="8.6" text-anchor="end" font-weight="normal" fill="#1e1e1e" textLength="8.4" lengthAdjust="spacingAndGlyphs" >40</text>
<text x="427.3" y="798.62" font-size="8.6" text-anchor="end" font-weight="normal" fill="#1e1e1e" textLength="8.4" lengthAdjust="spacingAndGlyphs" >60</text>
<text x="427.3" y="785.06" font-size="8.6" text-anchor="end" font-weight="normal" fill="#1e1e1e" textLength="8.4" lengthAdjust="spacingAndGlyphs" >80</text>
<text x="427.3" y="771.5" font-size="8.6" text-anchor="end" font-weight="normal" fill="#1e1e1e" textLength="12.6" lengthAdjust="spacingAndGlyphs" >100</text>
<path d="M439.5,836.7v3.6M451.5,836.7v3.6M464.5,836.7v3.6M484.5,836.7v3.6M501.5,836.7v3.6M450.5,836.7v2.8M452.5,836.7v2.8M453.5,836.7v2.8M470.5,836.7v2.0M473.5,836.7v2.0M476.5,836.7v2.0M478.5,836.7v2.0M479.5,836.7v2.0M481.5,836.7v2.0M482.5,836.7v2.0M483.5,836.7v2.0M489.5,836.7v2.0M492.5,836.7v2.0M494.5,836.7v2.0M496.5,836.7v2.0M497.5,836.7v2.0M499.5,836.7v2.0M500.5,836.7v2.0M501.5,836.7v2.0M507.5,836.7v2.0M510.5,836.7v2.0M442.5,836.7v2.0M445.5,836.7v2.0M448.5,836.7v2.0M449.5,836.7v2.0M455.5,836.7v2.0M457.5,836.7v2.0M460.5,836.7v2.0" stroke="#1a1a1a" stroke-width="1" fill="none"/>
<text x="439.91" y="854.5" font-size="8" text-anchor="middle" font-weight="normal" fill="#1e1e1e" >−10<tspan font-size="5.2" dy="-3.2">3</tspan></text>
<text x="452.86" y="854.5" font-size="8" text-anchor="middle" font-weight="normal" fill="#1e1e1e" >0</text>
<text x="464.14" y="854.5" font-size="8" text-anchor="middle" font-weight="normal" fill="#1e1e1e" >10<tspan font-size="5.2" dy="-3.2">3</tspan></text>
<text x="485.11" y="854.5" font-size="8" text-anchor="middle" font-weight="normal" fill="#1e1e1e" >10<tspan font-size="5.2" dy="-3.2">4</tspan></text>
<text x="502.76" y="854.5" font-size="8" text-anchor="middle" font-weight="normal" fill="#1e1e1e" >10<tspan font-size="5.2" dy="-3.2">5</tspan></text>
<path d="M24.3,86.3V363.2" stroke="#1a1a1a" stroke-width="1.2"/>
<text transform="translate(17.8,224.5) rotate(-90)" x="0" y="0" font-size="10.6" text-anchor="middle" fill="#1e1e1e" textLength="76" lengthAdjust="spacingAndGlyphs">Healthy Donors</text>
<path d="M44,61V172" stroke="#1a1a1a" stroke-width="1.2"/>
<text transform="translate(37.6,116.6) rotate(-90)" x="0" y="0" font-size="10.6" text-anchor="middle" fill="#1e1e1e" textLength="35.9" lengthAdjust="spacingAndGlyphs">Resting</text>
<text transform="translate(57,76.4) rotate(-90)" x="0" y="0" font-size="10" text-anchor="middle" fill="#1e1e1e" textLength="26.5" lengthAdjust="spacingAndGlyphs">CD4+</text>
<text transform="translate(57,157.8) rotate(-90)" x="0" y="0" font-size="10" text-anchor="middle" fill="#1e1e1e" textLength="27" lengthAdjust="spacingAndGlyphs">CD8+</text>
<path d="M44,277.4V388.7" stroke="#1a1a1a" stroke-width="1.2"/>
<text transform="translate(37.6,333) rotate(-90)" x="0" y="0" font-size="10.6" text-anchor="middle" fill="#1e1e1e" textLength="46.5" lengthAdjust="spacingAndGlyphs">Activated</text>
<text transform="translate(57,292.6) rotate(-90)" x="0" y="0" font-size="10" text-anchor="middle" fill="#1e1e1e" textLength="27" lengthAdjust="spacingAndGlyphs">CD4+</text>
<text transform="translate(57,374.7) rotate(-90)" x="0" y="0" font-size="10" text-anchor="middle" fill="#1e1e1e" textLength="26.6" lengthAdjust="spacingAndGlyphs">CD8+</text>
<path d="M24.3,513.7V790.3" stroke="#1a1a1a" stroke-width="1.2"/>
<text transform="translate(17.8,652) rotate(-90)" x="0" y="0" font-size="10.6" text-anchor="middle" fill="#1e1e1e" textLength="62" lengthAdjust="spacingAndGlyphs">MM Patients</text>
<path d="M44,492V603" stroke="#1a1a1a" stroke-width="1.2"/>
<text transform="translate(37.6,547.3) rotate(-90)" x="0" y="0" font-size="10.6" text-anchor="middle" fill="#1e1e1e" textLength="35.9" lengthAdjust="spacingAndGlyphs">Resting</text>
<text transform="translate(57,507) rotate(-90)" x="0" y="0" font-size="10" text-anchor="middle" fill="#1e1e1e" textLength="26.9" lengthAdjust="spacingAndGlyphs">CD4+</text>
<text transform="translate(57,588.2) rotate(-90)" x="0" y="0" font-size="10" text-anchor="middle" fill="#1e1e1e" textLength="27.7" lengthAdjust="spacingAndGlyphs">CD8+</text>
<path d="M44,701.2V812" stroke="#1a1a1a" stroke-width="1.2"/>
<text transform="translate(37.6,756.6) rotate(-90)" x="0" y="0" font-size="10.6" text-anchor="middle" fill="#1e1e1e" textLength="46.4" lengthAdjust="spacingAndGlyphs">Activated</text>
<text transform="translate(57,716.5) rotate(-90)" x="0" y="0" font-size="10" text-anchor="middle" fill="#1e1e1e" textLength="26.5" lengthAdjust="spacingAndGlyphs">CD4+</text>
<text transform="translate(57,798.2) rotate(-90)" x="0" y="0" font-size="10" text-anchor="middle" fill="#1e1e1e" textLength="27.7" lengthAdjust="spacingAndGlyphs">CD8+</text>
<text x="28.5" y="870" font-size="11" text-anchor="start" font-weight="normal" fill="#1e1e1e" textLength="40" lengthAdjust="spacingAndGlyphs" >CD200R</text>
<path d="M73.8,865.3H502" stroke="#111" stroke-width="1.5"/>
<path d="M511.2,865.4 L497.5,859.8 L500.6,865.4 L497.5,871 Z" fill="#111"/>
</svg></body></html>
